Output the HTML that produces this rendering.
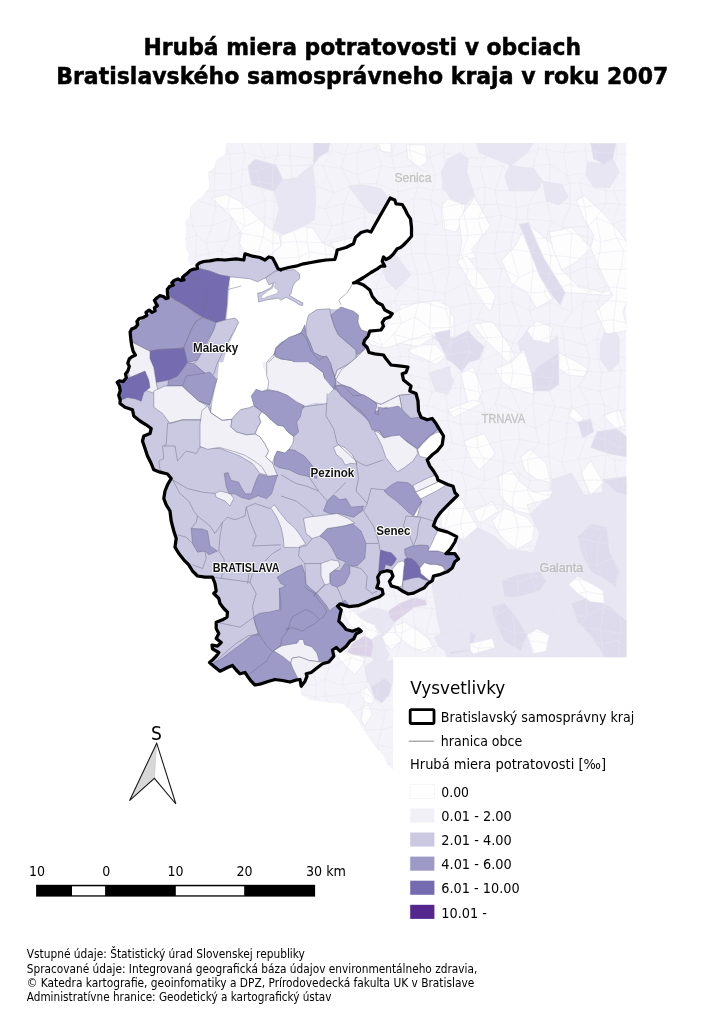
<!DOCTYPE html>
<html lang="sk"><head><meta charset="utf-8"><title>Hrubá miera potratovosti v obciach Bratislavského samosprávneho kraja v roku 2007</title>
<style>html,body{margin:0;padding:0;background:#fff}svg{display:block}</style></head>
<body>
<svg width="724" height="1024" viewBox="0 0 724 1024">
<rect width="724" height="1024" fill="#fff"/>
<defs><clipPath id="bgc"><polygon points="226,143 626.5,143 626.5,657.5 393.5,657.5 393.5,770 387.5,765 382.5,755 376,747.5 370,740 363.75,730 357.5,720 350,710 342.5,704 325,702.5 310,700 301,695 300,687 300,600 250,300 197.5,266 191,266 187.5,260 189,255 186,250 185,240 186,230 185,221 189,217.5 190,207.5 194,202.5 202.5,196 209,187.5 207.5,172.5 214,167.5 216,160 225,154"/></clipPath><clipPath id="rc"><polygon points="281,269.5 288.5,267.5 296,266.2 303.5,263.8 311,262.5 318.5,261.2 326,260 334.8,259.5 336.5,253.8 337.2,250 346,247.5 353.5,243.8 355.5,237.5 361,232.5 367.2,230.8 371,232 374.8,225 379.8,216.2 384.8,207.5 390.2,198 394.8,200 396,203.8 402.2,204.5 404.8,208.8 407.2,213.8 410.5,218.8 411.5,227.5 411.5,236.2 407.2,241.2 403.5,245 400.5,247.5 397.2,248.8 393.5,253.8 389.8,257.5 386,259.5 383.5,257 382.2,261.2 384.8,266.2 381,266.2 377.2,268.8 371,272.5 363.5,277.5 356,282 353.5,283 357.2,282.5 363.5,285 369.8,290 372.2,296.2 377.2,302.5 382.2,305 384.8,310 392.2,313.8 389.8,317 384.8,318.8 382.2,322.5 383.5,326.2 381,330 376,330.5 369.8,331.2 368,336.2 364.8,340 363.5,343.8 367.2,347.5 369,352.5 374.8,353.8 383.5,355 386,358.8 391,365 401,366.2 408,367 406,372.5 402.2,373.8 403.5,380 411,386 409.8,391 416,393.5 418,401 418.5,411 421,417.2 427.2,419.8 432.2,418.5 436,423.5 439.8,429.8 443.5,436 442.2,444.8 437.2,451 432.2,454.8 427.2,459.8 429.8,466 433.5,471 437.2,477.2 437.9,480 447.7,484.5 453.1,486.3 454.9,492.6 457.6,495.3 451.3,501.5 445.9,506.9 440.6,512.3 436.1,518.6 433.4,525.8 437.9,529.4 447.7,532.1 456.7,536.6 454.9,542 450.4,549.1 445.9,553.6 454.9,553.6 458.5,559 454.9,561.7 452.2,568 447.7,571.6 440.6,574.3 433.4,576.1 432.5,580.6 428,583.3 424.4,587.7 419,590.4 413.6,593.1 408.2,594 402.8,591.3 397.5,587.7 391.2,585.9 389.4,581.5 393,576.1 391.2,571.6 386.7,570.7 380.4,572.5 377.7,577 378.6,582.4 376.8,587.7 382.2,589.5 383.1,594 379.5,596.7 372.3,599.4 365.1,603 358,605.7 349,606.6 340,603.9 340,603.8 337.5,606.2 341.2,610 340,615 338.8,621.2 342.5,625 346.2,629.5 352.5,631.2 358.8,628.8 361.2,631.2 356.2,633.8 353.8,638.8 350,641.2 346.2,646.2 340,651.2 336.2,647.5 332.5,650 333.8,656.2 328.8,662 322.5,663.8 317.5,667.5 311.2,672.5 306.2,673.8 307,676.2 305,681.2 301.2,686.2 300,679.5 296.2,680 290,682 282.5,680.5 275,679.5 268.8,681.2 261.2,683.8 255,685 251.2,681.2 247.5,676.2 245,672.5 240,673.8 236.2,670 232.5,665.5 227.5,667.5 220,671.2 213.8,666.2 209.5,662.5 212.5,660 216.2,656.2 218.8,652.5 212.5,648.8 212,645 217.5,646.2 221.2,642.5 216.2,638.5 218.8,633.5 216.2,628.5 216.2,622.2 222.5,619.8 227,617.2 227.5,612.2 223.8,608.5 220,603.5 218.8,598.5 213.8,593.5 216.2,591 215,583.5 212.5,577.2 205,577.2 197.5,576 192.5,571 188.8,564.8 183.8,559.8 178.8,553.5 175,547.2 176.2,538.5 173.8,531 171.2,521 170,511 166.2,504.8 163.8,498.5 165,491 167.5,484.8 171.2,478.5 167.5,474 160,472.2 153.8,469.8 151.2,463.5 147.5,456 145,448.5 142.5,441 143.8,436 150,433.5 151.2,428.5 146.2,424.8 140,421 133.8,416 132.5,409.8 125,407.2 120,403.5 120.2,399.9 118.7,395.2 120.2,390.7 119.4,386.1 117.2,382.3 119.4,380.8 123.2,381.5 126.3,377.7 125.5,373.9 127.8,370.9 129.3,366.4 127.8,363.3 129.3,358.8 132.3,356.5 135.4,355 133.1,351.2 131.6,345.1 130.8,339 130.1,332.2 131.6,329.1 135.4,327.6 137.7,324.6 136.9,321.5 139.2,318.5 143,317.7 146.8,315.5 146,312.4 149.1,310.1 152.1,312.4 155.1,310.9 154.4,307.9 157.4,305.6 155.9,303.3 154.4,300.3 156.7,298 159.7,295.7 163.5,296.5 165.8,298.7 168.1,298 167.6,294.2 167.3,289.6 169.6,286.6 173.4,285.1 171.8,282.8 174.1,280.5 177.9,279 181,280.5 184,279.8 182.5,277.5 184.8,275.2 187.8,272.9 190.1,270.6 193.9,269.1 197.7,268.4 196.9,265.3 199.2,263 203.8,261.5 209.8,260.8 217.5,259.5 225,260 236.2,258.8 243.8,260 245,253.8 252.5,256.2 260,257.5 265,260 268.8,257 272.5,258 275,262.5 278,268.8 281,270"/></clipPath></defs>
<g id="bg" clip-path="url(#bgc)">
<polygon points="226,143 626.5,143 626.5,657.5 393.5,657.5 393.5,770 387.5,765 382.5,755 376,747.5 370,740 363.75,730 357.5,720 350,710 342.5,704 325,702.5 310,700 301,695 300,687 300,600 250,300 197.5,266 191,266 187.5,260 189,255 186,250 185,240 186,230 185,221 189,217.5 190,207.5 194,202.5 202.5,196 209,187.5 207.5,172.5 214,167.5 216,160 225,154" fill="#f4f3f9"/>
<polygon points="313.5,143 329.8,143 328.5,151.2 318.5,157.5 313.5,165" fill="#dedcec" stroke="#e4e3ec" stroke-width="0.6"/>
<polygon points="248,166.5 254.6,159.2 276.1,164.9 282.8,179.8 274.5,191.4 262.9,188.1 251.3,184.8" fill="#dedcec" stroke="#e4e3ec" stroke-width="0.6"/>
<polygon points="274.5,191.4 282.8,179.8 296,178.1 307.6,168.2 312.6,164.9 315.9,196.4 314.3,219.6 302.7,226.8 282.8,234.5 272.8,229.5 279.4,209.6" fill="#e8e6f2" stroke="#e4e3ec" stroke-width="0.6"/>
<polygon points="348.5,186.2 363.5,185 381,188.8 388.5,197.5 379.8,215 368.5,212.5 361,202.5" fill="#e8e6f2" stroke="#e4e3ec" stroke-width="0.6"/>
<polygon points="378.5,143 391,143 391,152.5 381,151.2" fill="#fdfdfe" stroke="#e4e3ec" stroke-width="0.6"/>
<polygon points="381,265 396,255 411,275 396,290 386,280" fill="#e8e6f2" stroke="#e4e3ec" stroke-width="0.6"/>
<polygon points="211.5,198 226.4,194.7 239.7,201.3 251.3,211.3 262.9,222.9 279.4,236.1 281.1,246.1 271.2,254.4 262.9,257.7 244.6,254.4 239.7,242.8 241.3,232.8 233,219.6 223.1,208" fill="#fdfdfe" stroke="#e4e3ec" stroke-width="0.6"/>
<polygon points="281.1,236.1 302.7,226.8 312.6,227.8 322.5,242.8 335.8,249.4 334.1,259.3 319.2,261 296,266 277.8,267.6 274.5,257.7 271.2,254.4 281.1,246.1" fill="#fdfdfe" stroke="#e4e3ec" stroke-width="0.6"/>
<polygon points="330.8,242.8 352.4,237.8 354,244.4 335.8,249.4" fill="#fdfdfe" stroke="#e4e3ec" stroke-width="0.6"/>
<polygon points="441.3,171.8 447.6,159.1 460.4,152.7 468.3,159.1 466.7,171.8 474.7,195.6 465.1,205.1 450.8,198.8 442.9,187.6" fill="#e8e6f2" stroke="#e4e3ec" stroke-width="0.6"/>
<polygon points="504.8,176.5 509.6,165.4 533.4,168.6 542.9,181.3 536.6,190.8 509.6,190.8" fill="#e8e6f2" stroke="#e4e3ec" stroke-width="0.6"/>
<polygon points="542.9,181.3 562,184.5 568.4,197.2 558.8,205.1 546.1,200.4" fill="#e8e6f2" stroke="#e4e3ec" stroke-width="0.6"/>
<polygon points="476.2,143.2 533.4,143.2 527.1,152.7 511.2,165.4 495.3,159.1 479.4,152.7" fill="#e8e6f2" stroke="#e4e3ec" stroke-width="0.6"/>
<polygon points="517.5,343.3 528.7,327.4 533.4,340.1 549.3,343.3 557.2,335.4 558.8,352.8 539.8,365.5 530.2,375.1" fill="#e8e6f2" stroke="#e4e3ec" stroke-width="0.6"/>
<polygon points="600.1,343.3 608.1,324.2 619.2,337 619.2,362.4 609.7,371.9 600.1,359.2" fill="#e8e6f2" stroke="#e4e3ec" stroke-width="0.6"/>
<polygon points="587.4,162.2 603.3,163.8 612.8,159.1 619.2,171.8 609.7,187.6 593.8,187.6 585.8,174.9" fill="#e8e6f2" stroke="#e4e3ec" stroke-width="0.6"/>
<polygon points="430.2,375.1 447.6,371.9 454,381.4 447.6,394.1 434.9,391" fill="#e8e6f2" stroke="#e4e3ec" stroke-width="0.6"/>
<polygon points="519.1,224.2 528.7,222.6 535,238.5 544.5,259.1 555.7,275 565.2,292.5 560.4,305.2 552.5,295.7 539.8,276.6 531.8,257.5 525.5,238.5" fill="#dedcec" stroke="#e4e3ec" stroke-width="0.6"/>
<polygon points="433.4,337 439.7,330.6 452.4,338.5 468.3,330.6 474.7,338.5 484.2,346.5 479.4,359.2 468.3,362.4 461.9,371.9 452.4,362.4 446.1,359.2 447.6,349.7" fill="#dedcec" stroke="#e4e3ec" stroke-width="0.6"/>
<polygon points="530.2,375.1 539.8,365.5 558.8,352.8 558.8,384.6 549.3,391 533.4,391" fill="#dedcec" stroke="#e4e3ec" stroke-width="0.6"/>
<polygon points="590.6,143.2 616,143.2 612.8,159.1 603.3,163.8 593.8,159.1" fill="#dedcec" stroke="#e4e3ec" stroke-width="0.6"/>
<polygon points="406.4,144.8 425.4,144.8 427,162.2 419.1,167 407.9,159.1" fill="#fdfdfe" stroke="#e4e3ec" stroke-width="0.6"/>
<polygon points="441.3,206.7 447.6,198.8 465.1,205.1 461.9,222.6 455.6,232.1 442.9,228.9" fill="#fdfdfe" stroke="#e4e3ec" stroke-width="0.6"/>
<polygon points="458.8,219.4 474.7,197.2 490.5,225.8 471.5,249.6 476.2,257.5 458.8,260.7 461.9,241.7" fill="#fdfdfe" stroke="#e4e3ec" stroke-width="0.6"/>
<polygon points="457.2,260.7 466.7,255.9 482.6,276.6 495.3,295.7 490.5,311.5 479.4,298.8 468.3,279.8" fill="#fdfdfe" stroke="#e4e3ec" stroke-width="0.6"/>
<polygon points="501.7,260.7 515.9,244.8 522.3,232.1 539.8,276.6 552.5,298.8 536.6,308.4 527.1,292.5 511.2,282.9" fill="#fdfdfe" stroke="#e4e3ec" stroke-width="0.6"/>
<polygon points="528.7,224.2 552.5,244.8 562,270.2 577.9,286.1 603.3,292.5 611.2,289.3 609.7,295.7 590.6,294.1 565.2,292.5 544.5,259.1 535,238.5" fill="#fdfdfe" stroke="#e4e3ec" stroke-width="0.6"/>
<polygon points="549.3,232.1 571.5,227.4 590.6,248 577.9,260.7 562,270.2 552.5,248" fill="#fdfdfe" stroke="#e4e3ec" stroke-width="0.6"/>
<polygon points="576.3,200.4 584.2,195.6 603.3,213.1 619.2,232.1 628.7,244.8 628.7,298.8 622.4,311.5 628.7,330.6 606.5,333.8 595.4,311.5 612.8,295.7 603.3,276.6 590.6,248 593.8,235.3 584.2,219.4" fill="#fdfdfe" stroke="#e4e3ec" stroke-width="0.6"/>
<polygon points="400,305.2 441.3,300.4 454,317.9 454,337 433.4,337 419.1,346.5 400,343.3" fill="#fdfdfe" stroke="#e4e3ec" stroke-width="0.6"/>
<polygon points="527.1,330.6 536.6,321.1 552.5,327.4 549.3,343.3 533.4,340.1" fill="#fdfdfe" stroke="#e4e3ec" stroke-width="0.6"/>
<polygon points="558.8,352.8 577.9,362.4 587.4,368.7 584.2,376.7 568.4,375.1 558.8,368.7" fill="#fdfdfe" stroke="#e4e3ec" stroke-width="0.6"/>
<polygon points="460.4,373.5 473.1,367.1 482.6,391 476.2,403.7 468.3,403.7" fill="#fdfdfe" stroke="#e4e3ec" stroke-width="0.6"/>
<polygon points="495.3,368.7 511.2,362.4 523.9,349.7 531.8,375.1 533.4,394.1 511.2,387.8 501.7,381.4" fill="#fdfdfe" stroke="#e4e3ec" stroke-width="0.6"/>
<polygon points="473.1,324.2 492.1,321.1 508,343.3 514.4,356 508,362.4 495.3,349.7 482.6,337" fill="#fdfdfe" stroke="#e4e3ec" stroke-width="0.6"/>
<polygon points="457.2,533.4 476.2,527.1 495.3,536.6 508,549.3 533.4,552.5 539.8,533.4 530.2,514.4 549.3,495.3 552.5,479.4 571.5,473.1 584.2,495.3 603.3,492.1 600.1,479.4 628.7,485.8 628.7,659.8 447.6,659.8 438.1,622.4 431.8,584.2 450.8,571.5 458.8,558.8" fill="#e8e6f2" stroke="#e4e3ec" stroke-width="0.6"/>
<polygon points="501.7,581.1 517.5,574.7 539.8,571.5 546.1,581.1 539.8,590.6 517.5,597 504.8,597" fill="#dedcec" stroke="#e4e3ec" stroke-width="0.6"/>
<polygon points="577.9,536.6 590.6,523.9 606.5,527.1 609.7,552.5 619.2,571.5 616,587.4 603.3,577.9 590.6,571.5 581.1,552.5" fill="#dedcec" stroke="#e4e3ec" stroke-width="0.6"/>
<polygon points="571.5,603.3 590.6,597 609.7,606.5 628.7,622.4 628.7,659.8 606.5,659.8 590.6,635.1 577.9,622.4" fill="#dedcec" stroke="#e4e3ec" stroke-width="0.6"/>
<polygon points="492.1,606.5 504.8,603.3 517.5,619.2 527.1,635.1 520.7,651 504.8,641.4 495.3,622.4" fill="#dedcec" stroke="#e4e3ec" stroke-width="0.6"/>
<polygon points="447.6,638.2 463.5,628.7 476.2,635.1 469.9,651 450.8,654.1" fill="#dedcec" stroke="#e4e3ec" stroke-width="0.6"/>
<polygon points="597,431.8 616,428.6 628.7,438.1 628.7,457.2 609.7,454 590.6,447.6" fill="#dedcec" stroke="#e4e3ec" stroke-width="0.6"/>
<polygon points="577.9,422.2 590.6,419.1 593.8,431.8 582.7,438.1" fill="#dedcec" stroke="#e4e3ec" stroke-width="0.6"/>
<polygon points="603.3,479.4 628.7,476.2 628.7,495.3 616,492.1" fill="#dedcec" stroke="#e4e3ec" stroke-width="0.6"/>
<polygon points="463.5,441.3 484.2,433.4 495.3,454 479.4,469.9 471.5,460.4" fill="#fdfdfe" stroke="#e4e3ec" stroke-width="0.6"/>
<polygon points="447.6,409.5 473.1,400 482.6,403.2 454,417.5" fill="#fdfdfe" stroke="#e4e3ec" stroke-width="0.6"/>
<polygon points="498.5,476.2 511.2,469.9 520.7,482.6 533.4,492.1 552.5,490.5 549.3,498.5 527.1,504.8 530.2,514.4 517.5,511.2 508,504.8 500.1,495.3" fill="#fdfdfe" stroke="#e4e3ec" stroke-width="0.6"/>
<polygon points="520.7,457.2 530.2,449.2 546.1,463.5 550.9,482.6 536.6,479.4 525.5,471.5" fill="#fdfdfe" stroke="#e4e3ec" stroke-width="0.6"/>
<polygon points="492.1,520.7 504.8,508 527.1,517.5 535,527.1 533.4,539.8 517.5,549.3 508,542.9 498.5,533.4" fill="#fdfdfe" stroke="#e4e3ec" stroke-width="0.6"/>
<polygon points="473.1,511.2 492.1,501.7 498.5,511.2 479.4,523.9" fill="#fdfdfe" stroke="#e4e3ec" stroke-width="0.6"/>
<polygon points="441.3,504.8 460.4,498.5 477.8,527.1 463.5,539.8 441.3,527.1" fill="#fdfdfe" stroke="#e4e3ec" stroke-width="0.6"/>
<polygon points="581.1,473.1 590.6,460.4 603.3,482.6 590.6,495.3" fill="#fdfdfe" stroke="#e4e3ec" stroke-width="0.6"/>
<polygon points="568.4,584.2 577.9,576.3 603.3,590.6 604.9,603.3 590.6,601.7 577.9,593.8" fill="#fdfdfe" stroke="#e4e3ec" stroke-width="0.6"/>
<polygon points="527.1,635.1 536.6,628.7 549.3,635.1 546.1,651 533.4,654.1" fill="#fdfdfe" stroke="#e4e3ec" stroke-width="0.6"/>
<polygon points="571.5,406.4 584.2,419.1 577.9,422.2 568.4,415.9" fill="#fdfdfe" stroke="#e4e3ec" stroke-width="0.6"/>
<polygon points="603.3,415.9 619.2,409.5 625.5,425.4 616,428.6" fill="#fdfdfe" stroke="#e4e3ec" stroke-width="0.6"/>
<polygon points="466.7,644.6 492.1,638.2 495.3,647.8 473.1,654.1" fill="#fdfdfe" stroke="#e4e3ec" stroke-width="0.6"/>
<polygon points="369.8,334.8 384.7,328.1 393.8,313.2 402.9,308.2 416.2,303.3 436.1,300.8 450,306.6 450,326.5 446,339.7 436.1,336.4 427.8,333.9 416.2,338.1 409.6,339.7 396.3,344.7 384.7,348 371.4,344.7 365.6,339.7" fill="#fdfdfe" stroke="#e4e3ec" stroke-width="0.6"/>
<polygon points="407.9,349.7 422.8,344.7 436.1,344.7 446,356.3 436.1,364.6 422.8,358 412.9,354.6" fill="#fdfdfe" stroke="#e4e3ec" stroke-width="0.6"/>
<polygon points="434.4,333.1 450,329.8 450,359.6 444.4,353" fill="#dedcec" stroke="#e4e3ec" stroke-width="0.6"/>
<polygon points="429.5,372.9 450,366.2 450,389.5 436.1,387.8" fill="#e8e6f2" stroke="#e4e3ec" stroke-width="0.6"/>
<polygon points="357.1,614.8 372,607.3 387,611.1 389.5,617.3 394.4,622.3 389.5,629.7 382,633.5 374.5,624.8 364.6,621" fill="#e8e6f2" stroke="#e4e3ec" stroke-width="0.6"/>
<polygon points="372,639.7 382,633.5 389.5,629.7 393.2,637.2 384.5,647.1 389.5,654.6 385.7,662 374.5,659.6 370.8,657.1 373.3,647.1" fill="#e8e6f2" stroke="#e4e3ec" stroke-width="0.6"/>
<polygon points="370.8,686.9 384.5,678.2 391.9,684.4 389.5,694.4 382,703.1 374.5,698.1" fill="#dedcec" stroke="#e4e3ec" stroke-width="0.6"/>
<polygon points="434.2,637.2 449.1,629.7 470,627.2 470,649.6 449.1,652.1 439.2,647.1" fill="#e8e6f2" stroke="#e4e3ec" stroke-width="0.6"/>
<polygon points="364.6,667 374.5,659.6 385.7,662 393.2,659.6 393.2,684.4 384.5,678.2 370.8,686.9 367.1,679.5" fill="#e8e6f2" stroke="#e4e3ec" stroke-width="0.6"/>
<polygon points="388.2,611.1 399.4,603.6 414.3,597.4 425.5,599.9 426.7,604.9 414.3,607.3 404.4,614.8 394.4,622.3 389.5,617.3" fill="#ddd3e8" stroke="#e4e3ec" stroke-width="0.6"/>
<polygon points="347.2,652.1 353.4,642.2 364.6,635.9 372,639.7 373.3,647.1 370.8,657.1 359.6,655.8 352.2,654.6" fill="#ddd3e8" stroke="#e4e3ec" stroke-width="0.6"/>
<polygon points="339.7,604.9 349.7,607.3 357.1,614.8 364.6,621 374.5,624.8 378.3,633.5 372,639.7 364.6,635.9 359.6,629.7 352.2,627.2 347.2,621 343.5,612.3" fill="#fdfdfe" stroke="#e4e3ec" stroke-width="0.6"/>
<polygon points="394.4,626 404.4,622.3 416.8,629.7 429.2,639.7 433,647.1 424.3,652.1 411.8,647.1 401.9,639.7 395.7,633.5" fill="#fdfdfe" stroke="#e4e3ec" stroke-width="0.6"/>
<polygon points="334.8,652.1 347.2,652.1 352.2,654.6 359.6,655.8 364.6,658.3 363.3,664.5 354.6,674.5 347.2,667 339.7,659.6" fill="#fdfdfe" stroke="#e4e3ec" stroke-width="0.6"/>
<polygon points="359.6,691.9 367.1,686.9 374.5,698.1 372,704.3 364.6,701.8" fill="#fdfdfe" stroke="#e4e3ec" stroke-width="0.6"/>
<polygon points="362.1,706.8 369.6,705.6 372,714.3 364.6,726.7 360.9,719.2" fill="#fdfdfe" stroke="#e4e3ec" stroke-width="0.6"/>
<polygon points="382,637.2 394.4,626 395.7,633.5 401.9,639.7 391.9,649.6 385.7,644.6" fill="#fdfdfe" stroke="#e4e3ec" stroke-width="0.6"/>
<path d="M173.9,131.8 194.8,130.9 210.4,134.4 221.7,136.1 238.4,135.2 255.8,131.1 277.1,139.9 290.5,132.7 313.5,141.4 329.9,134.8 351.7,130.6 367.3,133.5 375.7,131.4 394.7,139.8 410.2,137 432.7,134.5 448.6,130.8 459.7,132.5 484.2,135.1 496.8,137 515.4,133.6 536.5,138.4 546.9,136.9 567.3,140.5 586.8,133.5 606.8,131.4 617,139.1 630.8,135.9 M170.5,155 196.2,153.9 214.5,150.8 229.3,154.1 245,152.5 265.1,158.3 277.7,155 289.7,155.4 313.8,158.9 332.9,150.4 344.6,155 357.3,152.5 376,148.4 391.7,156.2 409.6,150 429.7,157.5 443,152.4 465.6,157.6 485.8,157.4 496.3,152 514.3,157.6 538.5,148.8 546.1,149.8 563.8,152.8 585.1,150.2 595,152 616.4,153.8 640.4,155.3 M176.2,171.4 195.1,164.6 214.8,173.4 231.5,173.6 242.7,168.8 256.2,171.6 272.7,164.8 291.5,165.9 310.1,164.6 323,165.8 341.2,168.4 357.3,174.5 381.4,165.8 394,168.2 412.4,165.5 435.2,175.9 447.6,169.8 460,165.2 480.1,167.2 502.9,165.9 510.3,175.4 533.3,165.8 550.5,164.3 567.3,175.7 588.4,172.4 598.1,168.4 614,173.3 635.4,173.3 M174,183.7 196.7,192.8 214.2,190.7 230.8,189.9 240.7,187.2 259.3,181.3 272.3,184.4 292.1,189.3 317.5,186.4 334.2,192.9 351.5,185.4 359.6,183.7 376.4,183.5 398.5,191.8 418.1,186.8 432.8,190.6 443,188.9 469.9,190.4 485,186.7 495.1,190.5 514,190.6 538.7,185.8 548.8,192.4 569.7,183 579.5,182.8 605.9,190.7 613.8,190.9 640.8,188.9 M174.2,204.6 188.6,198.2 215.7,205.8 227.3,209.2 243.2,208.5 264.9,200.5 275,201.5 291.9,205 309.1,203 324.6,208.9 344.2,203.5 364,208.9 379,209 397,204.4 414.3,198.2 430.3,200.2 442,207.6 461.1,203.7 484.7,204.7 496.9,204.2 516.7,207.4 528.3,204.7 547,201.3 570.3,204.1 584.7,207.1 605.9,203.3 619.4,204.1 635.1,206.3 M175.4,221.4 192.7,226.3 212.4,225.5 232.3,218.1 244.7,226.3 265.1,216.6 273.5,220.3 289.9,217.9 306.9,223 332.4,225.8 341.9,223.6 364.9,216.7 384.6,226.6 393.6,226.4 412.8,220.8 436.9,225 443.9,220.2 465.2,219.1 478.3,218.8 501.7,215.2 516.6,220.3 527.2,219 551.5,221.1 561.8,226.8 587.5,226.7 596.3,218.2 612.5,224.3 632.2,216.6 M175.1,242.9 196.8,235.1 205.8,243 227.8,240.4 239.1,232.7 263.3,237.1 272.9,243.3 296.6,241.6 307,242.3 323.8,242.4 345.4,236.1 363.6,243.1 377.2,233.6 397.3,234.9 409.3,233.9 425.6,234.4 445.7,235.7 468.1,235.5 482,234.1 497.2,232.2 513,232.2 535.8,238.6 546.3,237.7 572.2,233.3 587.8,237.2 600.9,242 616.7,238.1 637.3,243.8 M174.1,259 195.5,256.6 208.9,253.2 221.7,250.6 238.8,257.9 258.1,251 273,259.1 299.4,257 309.4,251.9 326.5,254.5 341.9,254.3 360.2,260.5 385.7,255.6 393.9,260.6 411.7,253.3 425,253.6 447.7,255 461.4,255.1 476.1,252.2 494.1,253.8 510.5,249.3 530.7,251.8 551,255.4 570,256.9 586.6,259.5 599.7,252.9 623.8,250.8 637.7,256.7 M170.5,276 197.7,273.5 212.8,275.7 222.7,272.3 244.1,276 264.7,275.9 279,276.7 297.2,274.3 308.8,266.4 324.6,270.3 341.3,276 363.7,273.5 381.5,274.2 396.9,266 417.6,275 431,272.4 449.9,266.8 467.8,269 476.9,269.2 501.8,268.5 518.9,277.7 532.9,270.6 549.7,274.2 570.2,273.4 585.7,266.9 596.8,269 620.9,269.7 635.8,266.1 M170.7,286.2 195.1,291.3 212.1,286.5 227.2,288.6 243.6,284.4 265.7,285.4 283.7,294.2 289.2,288.5 315.8,294.6 328.4,286.2 342.5,294.3 359.5,290 375.7,289.3 402.4,284.6 417.8,289.1 435.6,291.4 444.8,293.8 464.8,283.3 476,288.9 498.4,286.6 511.7,287.1 530.8,293.1 544,292 571.1,284.4 589.1,291.6 605.8,286.5 616.5,287.7 641,290.1 M174.3,305.1 190.3,300.6 205.2,310 224.4,311.2 241,303.2 261.1,302.3 276.5,311.5 299.6,309.7 313.6,311 334.3,306.6 348.6,300.6 365.8,305.4 383,307.7 394.4,300.6 419.1,301.5 430.7,304.1 445.6,308.9 470.7,303.1 483.9,303.6 499.7,304.7 512,301.9 529.5,310.9 550,302.6 571.9,312 583.4,301.7 597.3,301.1 616.1,301.1 631.9,303.1 M176.8,327.6 196,322 209,323.3 225.5,321.1 238.7,320.3 266.6,318.5 278,324.6 299.4,319.6 309.3,320 327.8,322.4 351.4,327.2 367.5,317.3 374.4,325.5 401.7,322.7 415,317 429.7,328.1 451.9,327.3 470.7,320 477.3,318.9 499.3,325.2 521.3,325.7 534.8,326.2 549.5,323.6 561.5,326.4 580.8,328 602.7,320.6 613.5,320 636.6,325.4 M171.3,334.8 193.3,341 208.7,336.7 228.2,334.1 241.6,339.5 266.5,341.7 282.6,339.7 291.8,337 317.5,342.5 326.7,334.3 346,342.1 362,337.1 382,345.1 393.7,334.4 412.1,339 433.2,336.4 451.6,342.9 465.1,336.5 487.6,337.7 502.8,336.8 512.7,343.1 530.5,345.4 549.9,336.2 563.7,339 586,345.4 596.8,338.7 614.6,345.7 630.7,334.6 M170.7,355.7 197.8,361.6 212.8,363 232.2,355 240.2,362.2 264,351.4 280,355.5 293.5,355 308,351 326.4,355.2 351.5,352.5 368.6,353.5 378.3,360.9 400.9,356.2 408.6,356.7 429.5,362 444.3,355.4 469.8,351.4 480.9,360.7 502.2,351.5 510.4,351.8 538,354.1 553,361.8 565.1,354.3 589.5,358.4 598.1,359.6 615.8,354.3 629,360.1 M181,375.6 198.3,368.3 206.8,373.7 232.5,379.4 242.6,371 260.2,373.9 283.1,370.2 298.6,376.9 315.9,377.3 330.3,371.9 343.8,372.3 366.4,368.9 376.4,377 394,368.8 408.4,374.6 428.9,379.8 452.6,379.9 462.2,369 477.2,374 501.5,373.4 512.8,373 534.4,376.1 553,378.2 569,369.5 588.1,371.5 601.8,372.5 620.9,370.4 632,370.9 M171.8,395.6 193.9,388.9 208.8,396.9 227.1,387.8 247.7,392.8 266.9,386.2 277.7,394.8 299.1,396 306.5,388.5 324.4,387.3 351.7,392 368.2,389.5 384.4,390.4 394.1,394.3 419.3,386.3 432.2,392.4 444.6,389.4 460.7,387.4 479.1,392.2 500.8,387.4 510.1,388.9 535.1,387.2 547.7,387.4 570.5,391.6 578.8,386.2 599.7,391.6 619.7,386.1 631,393.3 M174.9,405.4 190.7,413.4 207.7,408.8 225.3,407 248.4,414 259.4,404.4 280.7,404.4 289.1,412.8 311.1,411.8 327.9,412.6 345.5,404 357.2,408.6 381.7,412.9 392.1,409.5 412.5,408.1 426.8,405.4 448.3,413.1 460.3,407.9 485.7,413.6 495.4,403.5 521.3,413.7 532.8,402.6 555.1,406.7 571.9,409.4 587.9,403.9 604.4,404.7 616.9,412.2 639,404.2 M172.6,423.8 193.2,423.6 205.5,422 229.7,429.8 238.5,425.7 264.1,419.5 282.1,420.4 296.2,425.6 313.5,422.7 328,426 345.1,426.9 362.4,424.3 374.3,426.4 396.9,421.8 417.2,428.4 430.5,421.2 447.7,420.3 460.5,424.2 477.1,424.3 499.1,419.5 517.6,420 535.8,428.3 550.1,419.7 567,423.5 589.4,420.6 605.3,431 620.8,428.8 631.3,430.8 M175.9,447.5 198,438 213.5,447.2 221.8,440.2 247.1,437.9 265.8,439.3 281.8,437.7 295,447 308.5,439.2 329.1,439.8 340.4,438.2 358.9,447.2 382.2,446.7 393,445.4 409.4,442.4 432.6,440.3 452.5,442.7 466,446.6 477.3,447.9 500.6,440.7 519.6,439.2 538.9,442.9 548.3,445.2 566.3,438.1 586.9,436.6 604.8,439 619.7,447.8 636,444 M173.8,453 187.4,454.8 211.4,458.2 227.2,463.7 239.6,455.7 262.8,453.3 272,457.3 290.3,457.3 308.7,460 330.1,455.5 347.5,458.7 358.6,464.2 376.9,454.8 392.1,460.7 418.5,462.4 429.8,456.2 442.1,460.7 465.7,457.2 483.7,458.3 504.2,461.8 513,463.8 527.5,459.4 548.9,455.9 561.7,462.3 578.1,459.6 606.3,454.7 614.4,460.3 635.1,460.7 M179.8,472.1 190.7,473.6 204.6,480.7 230.4,478.6 238.1,480.1 263.9,475.6 280.9,475.4 291.7,471.3 308.8,470.5 327,479 348.3,480.1 365.5,473.2 380.6,475.2 400.5,476.3 411.2,477.7 436.6,472.6 452.6,470.2 462.1,472.8 484.9,481.3 502,473.9 520.6,473.9 529.9,480.9 551.6,478.3 569,481.7 583.6,480.1 603.4,480.3 617.2,478.7 635.8,473.7 M172.5,494.5 187.9,497.9 205.7,487.3 222.3,498.1 242.1,488.7 255.3,487.5 280.3,494.6 297.4,495.8 306.8,494.1 327.4,496.8 349.8,497.7 357.8,497.4 385,498.3 392.3,489.5 409.3,487.4 435.2,496.7 449.6,496.9 466.6,490.4 477.2,488.2 502.1,489.5 513.8,492.1 527.3,490.1 547.4,495.6 565.4,490.8 589.6,493 605.2,494.4 612.4,492 634.2,496.3 M174.2,512.5 193.5,506.6 214.3,505.1 230.8,506 238,506.4 264.1,515.7 272.1,509.9 294.9,513.6 308.2,509.9 327.2,514 343.1,515.3 360.4,506.6 382.4,510 392.3,511.6 409,513.5 433.4,513.4 449.5,508.3 463.8,508.7 486.7,505 503.7,504.3 512.5,507.2 537.8,510 548.6,514.6 563.8,509.5 584.4,513.1 604,511.8 616.2,507.9 630.9,514.1 M177.9,529.9 189,526.3 213.3,528 222.5,526.5 248.6,523.9 257.3,524.6 280.4,531.1 290.9,522.9 309,524.9 329.3,522.9 343.9,523.3 368.7,529.7 375.2,532.5 392.2,525.6 419.8,530.5 433.8,526.2 444.4,528.7 460.3,523.5 480.7,521.4 497.8,530.5 518.3,527 534.6,526.6 545.7,528.2 565.9,529.9 588.9,526.2 601.9,530 617.1,523.7 637.7,531.6 M179.3,546.4 197.2,546.2 211.7,543.4 224.8,545.5 239.2,543 264.4,546.6 279.6,541 294.1,543.5 313.5,542.9 331.1,549.2 342.2,545.9 366.3,542.7 379.9,549.7 391.5,544.5 409.9,547.4 436.3,544.2 443.2,544.9 465.5,546.6 482.1,545.7 502.9,544.3 514.9,549.4 529.5,546.2 548.7,547.2 562.5,549.8 582.3,538.7 598.3,542.8 612.2,543 634,546.4 M174.2,558.2 189.7,563.9 215.3,561.3 223.6,564.6 242.7,557.5 256.6,564.3 281.7,562.6 294.6,561.7 308.7,566.6 327.2,562.7 349.8,564.8 362.6,558.5 380.6,556.5 401,559.3 418.2,558.2 429.5,558 447.1,557.2 459,563.7 479.4,557.9 496.6,560.8 515.1,562.6 534.9,559.3 555.1,565.3 561.7,564.9 588.9,564.4 596.7,565 619.6,555.2 629.1,566.4 M177.9,575 188.2,573.7 206.8,581.3 225.2,573.8 248.8,581.5 257,582.7 279.3,581.4 297,582.7 315.5,582.1 325.4,580.3 346.4,580.9 362.3,582.6 380.7,575.2 393.8,573.7 413.9,572.7 430.6,573.7 447.9,578 465.5,582.4 476.1,582.1 498.6,578.8 518,582.1 531.5,577 555.5,572.9 568.6,579.6 578.3,579.3 603.2,583.2 616,583.8 635.1,577.8 M180.8,589.4 195.6,596.5 208.1,599.3 225.4,594.7 244.3,598.2 257.5,594.2 277.1,595.6 298.9,592.5 315.9,593.8 329,592.3 346.1,600.7 364.9,598.5 378,592.8 394.6,596 415.6,598.4 425.5,597.7 452.6,595.5 459.6,592.6 476.1,591.3 504.1,596.3 517.9,598.5 537.9,596.3 551.4,596.5 569.4,596.2 586.2,591.6 603,594.5 621.2,590.2 631.2,589.4 M179.3,617 194.9,610.4 213.9,615.4 227.7,609.1 241.6,611.1 258.8,611.2 279.7,617.2 289.7,612.8 306.5,607.4 332.7,612.9 351,611.4 357.2,610.6 381.1,617.3 402.8,611.7 412.9,607.2 432.7,608.5 443.8,606.2 459.1,614.2 477.5,617.6 494.1,616.4 511.5,606.2 535.6,608.9 552.8,608.2 561.6,615.3 586.6,616.3 603.8,607 619.5,614.5 634.5,617.2 M173,634.6 195.6,623.1 204.2,630.8 230.8,624 241.7,631.8 257,633.3 277.8,623.7 293.4,629.9 311.3,631.1 324.7,632.6 344.4,630.7 364.6,628 378.6,632.4 402.3,632.4 414.8,626.5 425.7,634.7 450.4,632.9 463,630.3 487.7,633 500.2,626.7 515.1,633.7 531.5,631.2 551.2,633.8 570.7,626.4 578,626.2 600.1,630 621.8,633.6 629.5,633 M179.7,650.4 193.9,643.3 214.2,649.7 229.2,651 242.2,641 261.6,649.6 274.4,649 300.2,642.8 313.3,648.1 328.6,642.5 343.1,649 366.5,645.5 375.1,649.7 400.3,642.8 415,650.8 435.6,646.3 447.7,647.1 461.3,642.3 478.2,648.4 497.4,646.8 514.8,646.2 528.8,640.5 556,644.5 562.3,647.6 587.4,641.9 602.2,644.1 618.2,640.2 629.4,651.9 M180.4,662.8 193.8,660.1 213.4,662.1 232.4,666.2 247.8,668.6 258,657.5 274.4,659.2 290,657.6 312.7,667.4 328.5,668.4 350.9,657.8 364.2,661.8 375.4,668.5 394.1,663.8 415.7,668.5 433,661.7 447.4,658.9 470.6,668.9 478.7,657.5 496.1,661.2 520.8,667.9 537,657.6 553.4,665.5 568.8,668.8 578.7,658.7 604.1,668.3 620.1,660.6 636.1,666.1 M171.3,677.9 190.1,675.5 209.8,676 223.9,675.7 246.1,674.2 263.6,676.3 272.4,685.1 291.6,685.2 316.4,684.7 324.7,679.4 341.2,685.1 367.1,681.5 379.4,678.1 400.9,679.7 415.5,675.7 427.7,674.7 450.6,680.6 460.7,684.4 479.2,678.9 494.9,677.3 520.1,678 529,679.9 547.8,684.8 562.4,685.7 578.7,684.7 603,676.5 617.7,677.4 632.1,676.4 M174.4,702.9 199,702.1 205.2,694.5 231.8,691.7 246.7,694.5 266.7,691.2 281.7,695.1 290.7,691 316,697.3 325.2,696.2 350.9,693.6 363.9,692.7 376.2,700.2 399.5,693.4 409,692 432.3,696.9 445.3,693.5 466.3,699.5 485.7,698 495.4,691.8 518.8,695.9 535.7,691.7 553.7,695 571.1,701.4 583.9,691.2 605.9,696.7 622.5,694.2 631.2,701 M174.4,710 191.5,715.1 204.1,714.2 226.3,714.2 239.4,716.6 264.8,718.4 275.9,716.5 293.6,717 306.7,718.5 334.4,713.9 346.2,714.4 363.4,708.2 385.6,710.7 393.2,709.2 411,717.8 425.4,709.2 450.4,710.3 459.2,715.2 482.9,714.3 501.4,709.2 520.4,716.6 527.5,709.5 549.9,714 564.4,709.5 582.9,709.6 602.1,718.3 613.8,714.9 638,710 M179.9,736.3 191.7,730 214.1,731.3 225.7,736.3 247.3,729.1 257.9,729 277.2,736.8 298.7,736 315.8,735.2 323.6,731.2 351.5,736.2 360,730.1 381.6,729.4 397.4,725.8 413.2,731.1 425.2,726.7 453.6,734.3 470.2,732.6 485.7,735.6 503.6,725.4 517.7,728.2 535.1,728.3 550.5,736.1 568.5,728 584.2,730.2 606.4,728.5 615.7,732.8 630.4,732.1 M181.5,748.2 190.2,747.6 210.4,743.8 222.5,743.6 241.5,746.9 258.5,744.9 273.1,748.6 299.1,749.3 312.8,749.8 325.4,750.5 345.5,748.6 364.4,747.6 377.7,744.9 393.7,748.1 412.6,749 425.1,746.2 452.3,744.9 465.7,747.9 479.4,753.9 496.5,751.3 511.9,742.8 537.5,747.3 544.7,746.7 566.3,750.8 579.3,744.7 606.5,750.9 613.9,746 633.2,750.1 M177.4,769.2 196.9,765.2 212.9,767.9 230.1,764.7 247.4,767.5 266,760.5 282.4,759.1 298.2,766 312,770.6 329.9,764 349.4,769.5 364.3,763.6 379.4,764.5 399.7,762.5 412.7,765.7 429.6,762.9 451.4,769.2 465,764.3 478.2,762.6 494.7,765.9 517,760.1 538,762.9 554.1,769.1 572.5,761.5 583.1,769.9 595.1,759.6 618.8,765 640,768.3 M176.5,788 193.2,782.2 212.2,780.7 225.3,783.1 242.2,787.4 263.1,782.3 273.2,780.5 293.8,782.7 312.9,786.6 334.6,781.8 345.3,783.5 369,780.1 380.4,785.8 393,779.8 419.7,785.9 431.2,777.3 452.7,784.3 468.8,787.9 486.7,781.1 494.9,779.5 516.1,782.1 529.3,778.2 551.6,783.2 565.2,787.9 585.6,776.5 599.9,785.5 615.7,784.3 629,779.7 M173.9,131.8 170.5,155 176.2,171.4 174,183.7 174.2,204.6 175.4,221.4 175.1,242.9 174.1,259 170.5,276 170.7,286.2 174.3,305.1 176.8,327.6 171.3,334.8 170.7,355.7 181,375.6 171.8,395.6 174.9,405.4 172.6,423.8 175.9,447.5 173.8,453 179.8,472.1 172.5,494.5 174.2,512.5 177.9,529.9 179.3,546.4 174.2,558.2 177.9,575 180.8,589.4 179.3,617 173,634.6 179.7,650.4 180.4,662.8 171.3,677.9 174.4,702.9 174.4,710 179.9,736.3 181.5,748.2 177.4,769.2 176.5,788 M194.8,130.9 196.2,153.9 195.1,164.6 196.7,192.8 188.6,198.2 192.7,226.3 196.8,235.1 195.5,256.6 197.7,273.5 195.1,291.3 190.3,300.6 196,322 193.3,341 197.8,361.6 198.3,368.3 193.9,388.9 190.7,413.4 193.2,423.6 198,438 187.4,454.8 190.7,473.6 187.9,497.9 193.5,506.6 189,526.3 197.2,546.2 189.7,563.9 188.2,573.7 195.6,596.5 194.9,610.4 195.6,623.1 193.9,643.3 193.8,660.1 190.1,675.5 199,702.1 191.5,715.1 191.7,730 190.2,747.6 196.9,765.2 193.2,782.2 M210.4,134.4 214.5,150.8 214.8,173.4 214.2,190.7 215.7,205.8 212.4,225.5 205.8,243 208.9,253.2 212.8,275.7 212.1,286.5 205.2,310 209,323.3 208.7,336.7 212.8,363 206.8,373.7 208.8,396.9 207.7,408.8 205.5,422 213.5,447.2 211.4,458.2 204.6,480.7 205.7,487.3 214.3,505.1 213.3,528 211.7,543.4 215.3,561.3 206.8,581.3 208.1,599.3 213.9,615.4 204.2,630.8 214.2,649.7 213.4,662.1 209.8,676 205.2,694.5 204.1,714.2 214.1,731.3 210.4,743.8 212.9,767.9 212.2,780.7 M221.7,136.1 229.3,154.1 231.5,173.6 230.8,189.9 227.3,209.2 232.3,218.1 227.8,240.4 221.7,250.6 222.7,272.3 227.2,288.6 224.4,311.2 225.5,321.1 228.2,334.1 232.2,355 232.5,379.4 227.1,387.8 225.3,407 229.7,429.8 221.8,440.2 227.2,463.7 230.4,478.6 222.3,498.1 230.8,506 222.5,526.5 224.8,545.5 223.6,564.6 225.2,573.8 225.4,594.7 227.7,609.1 230.8,624 229.2,651 232.4,666.2 223.9,675.7 231.8,691.7 226.3,714.2 225.7,736.3 222.5,743.6 230.1,764.7 225.3,783.1 M238.4,135.2 245,152.5 242.7,168.8 240.7,187.2 243.2,208.5 244.7,226.3 239.1,232.7 238.8,257.9 244.1,276 243.6,284.4 241,303.2 238.7,320.3 241.6,339.5 240.2,362.2 242.6,371 247.7,392.8 248.4,414 238.5,425.7 247.1,437.9 239.6,455.7 238.1,480.1 242.1,488.7 238,506.4 248.6,523.9 239.2,543 242.7,557.5 248.8,581.5 244.3,598.2 241.6,611.1 241.7,631.8 242.2,641 247.8,668.6 246.1,674.2 246.7,694.5 239.4,716.6 247.3,729.1 241.5,746.9 247.4,767.5 242.2,787.4 M255.8,131.1 265.1,158.3 256.2,171.6 259.3,181.3 264.9,200.5 265.1,216.6 263.3,237.1 258.1,251 264.7,275.9 265.7,285.4 261.1,302.3 266.6,318.5 266.5,341.7 264,351.4 260.2,373.9 266.9,386.2 259.4,404.4 264.1,419.5 265.8,439.3 262.8,453.3 263.9,475.6 255.3,487.5 264.1,515.7 257.3,524.6 264.4,546.6 256.6,564.3 257,582.7 257.5,594.2 258.8,611.2 257,633.3 261.6,649.6 258,657.5 263.6,676.3 266.7,691.2 264.8,718.4 257.9,729 258.5,744.9 266,760.5 263.1,782.3 M277.1,139.9 277.7,155 272.7,164.8 272.3,184.4 275,201.5 273.5,220.3 272.9,243.3 273,259.1 279,276.7 283.7,294.2 276.5,311.5 278,324.6 282.6,339.7 280,355.5 283.1,370.2 277.7,394.8 280.7,404.4 282.1,420.4 281.8,437.7 272,457.3 280.9,475.4 280.3,494.6 272.1,509.9 280.4,531.1 279.6,541 281.7,562.6 279.3,581.4 277.1,595.6 279.7,617.2 277.8,623.7 274.4,649 274.4,659.2 272.4,685.1 281.7,695.1 275.9,716.5 277.2,736.8 273.1,748.6 282.4,759.1 273.2,780.5 M290.5,132.7 289.7,155.4 291.5,165.9 292.1,189.3 291.9,205 289.9,217.9 296.6,241.6 299.4,257 297.2,274.3 289.2,288.5 299.6,309.7 299.4,319.6 291.8,337 293.5,355 298.6,376.9 299.1,396 289.1,412.8 296.2,425.6 295,447 290.3,457.3 291.7,471.3 297.4,495.8 294.9,513.6 290.9,522.9 294.1,543.5 294.6,561.7 297,582.7 298.9,592.5 289.7,612.8 293.4,629.9 300.2,642.8 290,657.6 291.6,685.2 290.7,691 293.6,717 298.7,736 299.1,749.3 298.2,766 293.8,782.7 M313.5,141.4 313.8,158.9 310.1,164.6 317.5,186.4 309.1,203 306.9,223 307,242.3 309.4,251.9 308.8,266.4 315.8,294.6 313.6,311 309.3,320 317.5,342.5 308,351 315.9,377.3 306.5,388.5 311.1,411.8 313.5,422.7 308.5,439.2 308.7,460 308.8,470.5 306.8,494.1 308.2,509.9 309,524.9 313.5,542.9 308.7,566.6 315.5,582.1 315.9,593.8 306.5,607.4 311.3,631.1 313.3,648.1 312.7,667.4 316.4,684.7 316,697.3 306.7,718.5 315.8,735.2 312.8,749.8 312,770.6 312.9,786.6 M329.9,134.8 332.9,150.4 323,165.8 334.2,192.9 324.6,208.9 332.4,225.8 323.8,242.4 326.5,254.5 324.6,270.3 328.4,286.2 334.3,306.6 327.8,322.4 326.7,334.3 326.4,355.2 330.3,371.9 324.4,387.3 327.9,412.6 328,426 329.1,439.8 330.1,455.5 327,479 327.4,496.8 327.2,514 329.3,522.9 331.1,549.2 327.2,562.7 325.4,580.3 329,592.3 332.7,612.9 324.7,632.6 328.6,642.5 328.5,668.4 324.7,679.4 325.2,696.2 334.4,713.9 323.6,731.2 325.4,750.5 329.9,764 334.6,781.8 M351.7,130.6 344.6,155 341.2,168.4 351.5,185.4 344.2,203.5 341.9,223.6 345.4,236.1 341.9,254.3 341.3,276 342.5,294.3 348.6,300.6 351.4,327.2 346,342.1 351.5,352.5 343.8,372.3 351.7,392 345.5,404 345.1,426.9 340.4,438.2 347.5,458.7 348.3,480.1 349.8,497.7 343.1,515.3 343.9,523.3 342.2,545.9 349.8,564.8 346.4,580.9 346.1,600.7 351,611.4 344.4,630.7 343.1,649 350.9,657.8 341.2,685.1 350.9,693.6 346.2,714.4 351.5,736.2 345.5,748.6 349.4,769.5 345.3,783.5 M367.3,133.5 357.3,152.5 357.3,174.5 359.6,183.7 364,208.9 364.9,216.7 363.6,243.1 360.2,260.5 363.7,273.5 359.5,290 365.8,305.4 367.5,317.3 362,337.1 368.6,353.5 366.4,368.9 368.2,389.5 357.2,408.6 362.4,424.3 358.9,447.2 358.6,464.2 365.5,473.2 357.8,497.4 360.4,506.6 368.7,529.7 366.3,542.7 362.6,558.5 362.3,582.6 364.9,598.5 357.2,610.6 364.6,628 366.5,645.5 364.2,661.8 367.1,681.5 363.9,692.7 363.4,708.2 360,730.1 364.4,747.6 364.3,763.6 369,780.1 M375.7,131.4 376,148.4 381.4,165.8 376.4,183.5 379,209 384.6,226.6 377.2,233.6 385.7,255.6 381.5,274.2 375.7,289.3 383,307.7 374.4,325.5 382,345.1 378.3,360.9 376.4,377 384.4,390.4 381.7,412.9 374.3,426.4 382.2,446.7 376.9,454.8 380.6,475.2 385,498.3 382.4,510 375.2,532.5 379.9,549.7 380.6,556.5 380.7,575.2 378,592.8 381.1,617.3 378.6,632.4 375.1,649.7 375.4,668.5 379.4,678.1 376.2,700.2 385.6,710.7 381.6,729.4 377.7,744.9 379.4,764.5 380.4,785.8 M394.7,139.8 391.7,156.2 394,168.2 398.5,191.8 397,204.4 393.6,226.4 397.3,234.9 393.9,260.6 396.9,266 402.4,284.6 394.4,300.6 401.7,322.7 393.7,334.4 400.9,356.2 394,368.8 394.1,394.3 392.1,409.5 396.9,421.8 393,445.4 392.1,460.7 400.5,476.3 392.3,489.5 392.3,511.6 392.2,525.6 391.5,544.5 401,559.3 393.8,573.7 394.6,596 402.8,611.7 402.3,632.4 400.3,642.8 394.1,663.8 400.9,679.7 399.5,693.4 393.2,709.2 397.4,725.8 393.7,748.1 399.7,762.5 393,779.8 M410.2,137 409.6,150 412.4,165.5 418.1,186.8 414.3,198.2 412.8,220.8 409.3,233.9 411.7,253.3 417.6,275 417.8,289.1 419.1,301.5 415,317 412.1,339 408.6,356.7 408.4,374.6 419.3,386.3 412.5,408.1 417.2,428.4 409.4,442.4 418.5,462.4 411.2,477.7 409.3,487.4 409,513.5 419.8,530.5 409.9,547.4 418.2,558.2 413.9,572.7 415.6,598.4 412.9,607.2 414.8,626.5 415,650.8 415.7,668.5 415.5,675.7 409,692 411,717.8 413.2,731.1 412.6,749 412.7,765.7 419.7,785.9 M432.7,134.5 429.7,157.5 435.2,175.9 432.8,190.6 430.3,200.2 436.9,225 425.6,234.4 425,253.6 431,272.4 435.6,291.4 430.7,304.1 429.7,328.1 433.2,336.4 429.5,362 428.9,379.8 432.2,392.4 426.8,405.4 430.5,421.2 432.6,440.3 429.8,456.2 436.6,472.6 435.2,496.7 433.4,513.4 433.8,526.2 436.3,544.2 429.5,558 430.6,573.7 425.5,597.7 432.7,608.5 425.7,634.7 435.6,646.3 433,661.7 427.7,674.7 432.3,696.9 425.4,709.2 425.2,726.7 425.1,746.2 429.6,762.9 431.2,777.3 M448.6,130.8 443,152.4 447.6,169.8 443,188.9 442,207.6 443.9,220.2 445.7,235.7 447.7,255 449.9,266.8 444.8,293.8 445.6,308.9 451.9,327.3 451.6,342.9 444.3,355.4 452.6,379.9 444.6,389.4 448.3,413.1 447.7,420.3 452.5,442.7 442.1,460.7 452.6,470.2 449.6,496.9 449.5,508.3 444.4,528.7 443.2,544.9 447.1,557.2 447.9,578 452.6,595.5 443.8,606.2 450.4,632.9 447.7,647.1 447.4,658.9 450.6,680.6 445.3,693.5 450.4,710.3 453.6,734.3 452.3,744.9 451.4,769.2 452.7,784.3 M459.7,132.5 465.6,157.6 460,165.2 469.9,190.4 461.1,203.7 465.2,219.1 468.1,235.5 461.4,255.1 467.8,269 464.8,283.3 470.7,303.1 470.7,320 465.1,336.5 469.8,351.4 462.2,369 460.7,387.4 460.3,407.9 460.5,424.2 466,446.6 465.7,457.2 462.1,472.8 466.6,490.4 463.8,508.7 460.3,523.5 465.5,546.6 459,563.7 465.5,582.4 459.6,592.6 459.1,614.2 463,630.3 461.3,642.3 470.6,668.9 460.7,684.4 466.3,699.5 459.2,715.2 470.2,732.6 465.7,747.9 465,764.3 468.8,787.9 M484.2,135.1 485.8,157.4 480.1,167.2 485,186.7 484.7,204.7 478.3,218.8 482,234.1 476.1,252.2 476.9,269.2 476,288.9 483.9,303.6 477.3,318.9 487.6,337.7 480.9,360.7 477.2,374 479.1,392.2 485.7,413.6 477.1,424.3 477.3,447.9 483.7,458.3 484.9,481.3 477.2,488.2 486.7,505 480.7,521.4 482.1,545.7 479.4,557.9 476.1,582.1 476.1,591.3 477.5,617.6 487.7,633 478.2,648.4 478.7,657.5 479.2,678.9 485.7,698 482.9,714.3 485.7,735.6 479.4,753.9 478.2,762.6 486.7,781.1 M496.8,137 496.3,152 502.9,165.9 495.1,190.5 496.9,204.2 501.7,215.2 497.2,232.2 494.1,253.8 501.8,268.5 498.4,286.6 499.7,304.7 499.3,325.2 502.8,336.8 502.2,351.5 501.5,373.4 500.8,387.4 495.4,403.5 499.1,419.5 500.6,440.7 504.2,461.8 502,473.9 502.1,489.5 503.7,504.3 497.8,530.5 502.9,544.3 496.6,560.8 498.6,578.8 504.1,596.3 494.1,616.4 500.2,626.7 497.4,646.8 496.1,661.2 494.9,677.3 495.4,691.8 501.4,709.2 503.6,725.4 496.5,751.3 494.7,765.9 494.9,779.5 M515.4,133.6 514.3,157.6 510.3,175.4 514,190.6 516.7,207.4 516.6,220.3 513,232.2 510.5,249.3 518.9,277.7 511.7,287.1 512,301.9 521.3,325.7 512.7,343.1 510.4,351.8 512.8,373 510.1,388.9 521.3,413.7 517.6,420 519.6,439.2 513,463.8 520.6,473.9 513.8,492.1 512.5,507.2 518.3,527 514.9,549.4 515.1,562.6 518,582.1 517.9,598.5 511.5,606.2 515.1,633.7 514.8,646.2 520.8,667.9 520.1,678 518.8,695.9 520.4,716.6 517.7,728.2 511.9,742.8 517,760.1 516.1,782.1 M536.5,138.4 538.5,148.8 533.3,165.8 538.7,185.8 528.3,204.7 527.2,219 535.8,238.6 530.7,251.8 532.9,270.6 530.8,293.1 529.5,310.9 534.8,326.2 530.5,345.4 538,354.1 534.4,376.1 535.1,387.2 532.8,402.6 535.8,428.3 538.9,442.9 527.5,459.4 529.9,480.9 527.3,490.1 537.8,510 534.6,526.6 529.5,546.2 534.9,559.3 531.5,577 537.9,596.3 535.6,608.9 531.5,631.2 528.8,640.5 537,657.6 529,679.9 535.7,691.7 527.5,709.5 535.1,728.3 537.5,747.3 538,762.9 529.3,778.2 M546.9,136.9 546.1,149.8 550.5,164.3 548.8,192.4 547,201.3 551.5,221.1 546.3,237.7 551,255.4 549.7,274.2 544,292 550,302.6 549.5,323.6 549.9,336.2 553,361.8 553,378.2 547.7,387.4 555.1,406.7 550.1,419.7 548.3,445.2 548.9,455.9 551.6,478.3 547.4,495.6 548.6,514.6 545.7,528.2 548.7,547.2 555.1,565.3 555.5,572.9 551.4,596.5 552.8,608.2 551.2,633.8 556,644.5 553.4,665.5 547.8,684.8 553.7,695 549.9,714 550.5,736.1 544.7,746.7 554.1,769.1 551.6,783.2 M567.3,140.5 563.8,152.8 567.3,175.7 569.7,183 570.3,204.1 561.8,226.8 572.2,233.3 570,256.9 570.2,273.4 571.1,284.4 571.9,312 561.5,326.4 563.7,339 565.1,354.3 569,369.5 570.5,391.6 571.9,409.4 567,423.5 566.3,438.1 561.7,462.3 569,481.7 565.4,490.8 563.8,509.5 565.9,529.9 562.5,549.8 561.7,564.9 568.6,579.6 569.4,596.2 561.6,615.3 570.7,626.4 562.3,647.6 568.8,668.8 562.4,685.7 571.1,701.4 564.4,709.5 568.5,728 566.3,750.8 572.5,761.5 565.2,787.9 M586.8,133.5 585.1,150.2 588.4,172.4 579.5,182.8 584.7,207.1 587.5,226.7 587.8,237.2 586.6,259.5 585.7,266.9 589.1,291.6 583.4,301.7 580.8,328 586,345.4 589.5,358.4 588.1,371.5 578.8,386.2 587.9,403.9 589.4,420.6 586.9,436.6 578.1,459.6 583.6,480.1 589.6,493 584.4,513.1 588.9,526.2 582.3,538.7 588.9,564.4 578.3,579.3 586.2,591.6 586.6,616.3 578,626.2 587.4,641.9 578.7,658.7 578.7,684.7 583.9,691.2 582.9,709.6 584.2,730.2 579.3,744.7 583.1,769.9 585.6,776.5 M606.8,131.4 595,152 598.1,168.4 605.9,190.7 605.9,203.3 596.3,218.2 600.9,242 599.7,252.9 596.8,269 605.8,286.5 597.3,301.1 602.7,320.6 596.8,338.7 598.1,359.6 601.8,372.5 599.7,391.6 604.4,404.7 605.3,431 604.8,439 606.3,454.7 603.4,480.3 605.2,494.4 604,511.8 601.9,530 598.3,542.8 596.7,565 603.2,583.2 603,594.5 603.8,607 600.1,630 602.2,644.1 604.1,668.3 603,676.5 605.9,696.7 602.1,718.3 606.4,728.5 606.5,750.9 595.1,759.6 599.9,785.5 M617,139.1 616.4,153.8 614,173.3 613.8,190.9 619.4,204.1 612.5,224.3 616.7,238.1 623.8,250.8 620.9,269.7 616.5,287.7 616.1,301.1 613.5,320 614.6,345.7 615.8,354.3 620.9,370.4 619.7,386.1 616.9,412.2 620.8,428.8 619.7,447.8 614.4,460.3 617.2,478.7 612.4,492 616.2,507.9 617.1,523.7 612.2,543 619.6,555.2 616,583.8 621.2,590.2 619.5,614.5 621.8,633.6 618.2,640.2 620.1,660.6 617.7,677.4 622.5,694.2 613.8,714.9 615.7,732.8 613.9,746 618.8,765 615.7,784.3 M630.8,135.9 640.4,155.3 635.4,173.3 640.8,188.9 635.1,206.3 632.2,216.6 637.3,243.8 637.7,256.7 635.8,266.1 641,290.1 631.9,303.1 636.6,325.4 630.7,334.6 629,360.1 632,370.9 631,393.3 639,404.2 631.3,430.8 636,444 635.1,460.7 635.8,473.7 634.2,496.3 630.9,514.1 637.7,531.6 634,546.4 629.1,566.4 635.1,577.8 631.2,589.4 634.5,617.2 629.5,633 629.4,651.9 636.1,666.1 632.1,676.4 631.2,701 638,710 630.4,732.1 633.2,750.1 640,768.3 629,779.7" fill="none" stroke="#e7e6ef" stroke-width="0.5"/>
</g>
<g id="region" clip-path="url(#rc)" stroke-linejoin="round">
<polygon points="281,269.5 288.5,267.5 296,266.2 303.5,263.8 311,262.5 318.5,261.2 326,260 334.8,259.5 336.5,253.8 337.2,250 346,247.5 353.5,243.8 355.5,237.5 361,232.5 367.2,230.8 371,232 374.8,225 379.8,216.2 384.8,207.5 390.2,198 394.8,200 396,203.8 402.2,204.5 404.8,208.8 407.2,213.8 410.5,218.8 411.5,227.5 411.5,236.2 407.2,241.2 403.5,245 400.5,247.5 397.2,248.8 393.5,253.8 389.8,257.5 386,259.5 383.5,257 382.2,261.2 384.8,266.2 381,266.2 377.2,268.8 371,272.5 363.5,277.5 356,282 353.5,283 357.2,282.5 363.5,285 369.8,290 372.2,296.2 377.2,302.5 382.2,305 384.8,310 392.2,313.8 389.8,317 384.8,318.8 382.2,322.5 383.5,326.2 381,330 376,330.5 369.8,331.2 368,336.2 364.8,340 363.5,343.8 367.2,347.5 369,352.5 374.8,353.8 383.5,355 386,358.8 391,365 401,366.2 408,367 406,372.5 402.2,373.8 403.5,380 411,386 409.8,391 416,393.5 418,401 418.5,411 421,417.2 427.2,419.8 432.2,418.5 436,423.5 439.8,429.8 443.5,436 442.2,444.8 437.2,451 432.2,454.8 427.2,459.8 429.8,466 433.5,471 437.2,477.2 437.9,480 447.7,484.5 453.1,486.3 454.9,492.6 457.6,495.3 451.3,501.5 445.9,506.9 440.6,512.3 436.1,518.6 433.4,525.8 437.9,529.4 447.7,532.1 456.7,536.6 454.9,542 450.4,549.1 445.9,553.6 454.9,553.6 458.5,559 454.9,561.7 452.2,568 447.7,571.6 440.6,574.3 433.4,576.1 432.5,580.6 428,583.3 424.4,587.7 419,590.4 413.6,593.1 408.2,594 402.8,591.3 397.5,587.7 391.2,585.9 389.4,581.5 393,576.1 391.2,571.6 386.7,570.7 380.4,572.5 377.7,577 378.6,582.4 376.8,587.7 382.2,589.5 383.1,594 379.5,596.7 372.3,599.4 365.1,603 358,605.7 349,606.6 340,603.9 340,603.8 337.5,606.2 341.2,610 340,615 338.8,621.2 342.5,625 346.2,629.5 352.5,631.2 358.8,628.8 361.2,631.2 356.2,633.8 353.8,638.8 350,641.2 346.2,646.2 340,651.2 336.2,647.5 332.5,650 333.8,656.2 328.8,662 322.5,663.8 317.5,667.5 311.2,672.5 306.2,673.8 307,676.2 305,681.2 301.2,686.2 300,679.5 296.2,680 290,682 282.5,680.5 275,679.5 268.8,681.2 261.2,683.8 255,685 251.2,681.2 247.5,676.2 245,672.5 240,673.8 236.2,670 232.5,665.5 227.5,667.5 220,671.2 213.8,666.2 209.5,662.5 212.5,660 216.2,656.2 218.8,652.5 212.5,648.8 212,645 217.5,646.2 221.2,642.5 216.2,638.5 218.8,633.5 216.2,628.5 216.2,622.2 222.5,619.8 227,617.2 227.5,612.2 223.8,608.5 220,603.5 218.8,598.5 213.8,593.5 216.2,591 215,583.5 212.5,577.2 205,577.2 197.5,576 192.5,571 188.8,564.8 183.8,559.8 178.8,553.5 175,547.2 176.2,538.5 173.8,531 171.2,521 170,511 166.2,504.8 163.8,498.5 165,491 167.5,484.8 171.2,478.5 167.5,474 160,472.2 153.8,469.8 151.2,463.5 147.5,456 145,448.5 142.5,441 143.8,436 150,433.5 151.2,428.5 146.2,424.8 140,421 133.8,416 132.5,409.8 125,407.2 120,403.5 120.2,399.9 118.7,395.2 120.2,390.7 119.4,386.1 117.2,382.3 119.4,380.8 123.2,381.5 126.3,377.7 125.5,373.9 127.8,370.9 129.3,366.4 127.8,363.3 129.3,358.8 132.3,356.5 135.4,355 133.1,351.2 131.6,345.1 130.8,339 130.1,332.2 131.6,329.1 135.4,327.6 137.7,324.6 136.9,321.5 139.2,318.5 143,317.7 146.8,315.5 146,312.4 149.1,310.1 152.1,312.4 155.1,310.9 154.4,307.9 157.4,305.6 155.9,303.3 154.4,300.3 156.7,298 159.7,295.7 163.5,296.5 165.8,298.7 168.1,298 167.6,294.2 167.3,289.6 169.6,286.6 173.4,285.1 171.8,282.8 174.1,280.5 177.9,279 181,280.5 184,279.8 182.5,277.5 184.8,275.2 187.8,272.9 190.1,270.6 193.9,269.1 197.7,268.4 196.9,265.3 199.2,263 203.8,261.5 209.8,260.8 217.5,259.5 225,260 236.2,258.8 243.8,260 245,253.8 252.5,256.2 260,257.5 265,260 268.8,257 272.5,258 275,262.5 278,268.8 281,270" fill="#cbc9e2"/>
<polygon points="185,255 420,185 420,340 365.7,332.9 359.1,326.2 355.8,313 345.9,309.7 330.9,309 316,309.7 309.4,314.6 306.1,326.2 304.4,331.2 289.5,337.8 279.6,346.1 276.2,356.1 271.3,357.7 263,366 266.3,379.3 261.3,392.5 254.7,390.9 249.7,404.1 233.1,412.4 213.3,405.8 215,396 220,372.6 228,346 236.5,328 238,319.6 226.5,321 229.8,283 200,270" fill="#ffffff" stroke="none" stroke-width="0"/>
<polygon points="200,262 207.5,260 217.5,259.5 225,260 236.2,258.8 243.8,260 245,253.8 252.5,256.2 260,257.5 265,260 268.8,257 272.5,258 275,262.5 278.8,270 272.5,272.5 266.2,277.5 257.5,281.8 250,278.8 230,276.8 220,275 210,271.2 200,268.8" fill="#cbc9e2" stroke="#70708a" stroke-width="0.5"/>
<polygon points="187.5,272.5 200,268.8 210,271.2 220,275 230,276.8 227.5,290 227,305 225,320 216.2,322.5 202.5,317 195,312.5 186.2,306.2 180,302.5 175,300 170,296.2 168,292.5 168.8,286.2 173.8,282 180,281.2 183.8,277.5" fill="#756bb1" stroke="#70708a" stroke-width="0.5"/>
<polygon points="168,298 170,296.2 175,300 186.2,306.2 195,312.5 202.5,317.5 195,322.5 191.2,330 187.5,338.8 183.8,347.5 175,348.8 158.8,349.5 150,351.2 142.5,347.5 133.8,342.5 131.2,342.5 130.5,333.8 132.5,330 137.5,327.5 138.8,322.5 143.8,320 145,316.2 150,313.8 152.5,308.8 156.2,306.2 155.5,301.2 158.8,297 163.8,296.2" fill="#9e9ac8" stroke="#70708a" stroke-width="0.5"/>
<polygon points="196.2,321.2 202.5,317.5 216.2,322.5 212.5,332.5 207.5,340 203.8,347.5 197.5,360 187.5,362.5 183.8,347.5 187.5,338.8 191.2,330" fill="#9e9ac8" stroke="#70708a" stroke-width="0.5"/>
<polygon points="216.2,322.5 225,320 235,318 238.8,322.5 232.5,333.8 225,347.5 217.5,362.5 213.8,373.8 210,377.5 193.8,363.8 197.5,360 205,347.5 210,337.5 213.8,330" fill="#cbc9e2" stroke="#70708a" stroke-width="0.5"/>
<polygon points="150,351.2 158.8,349.5 175,348.8 183.8,348 187.5,362.5 182.5,370 177.5,376.2 168.8,380 156.2,382.5 153.8,367.5 150,358.8" fill="#756bb1" stroke="#70708a" stroke-width="0.5"/>
<polygon points="133.8,343 142.5,347.5 150,351.2 150,358.8 153.8,367.5 156.2,382.5 158.8,395 145,390 145,371.2 130,377.5 127.5,370 128.8,362.5 133.8,355 131.2,342.5" fill="#f2f0f7" stroke="#70708a" stroke-width="0.5"/>
<polygon points="123.8,378.8 130,377.5 145,371.2 148.8,380 150,387.5 143.8,392.5 141.2,401.2 135,398.8 127.5,397.5 121.2,400 119.5,393.8 117.5,381.2 122.5,382.5" fill="#756bb1" stroke="#70708a" stroke-width="0.5"/>
<polygon points="168.8,380 177.5,376.2 187.5,362.5 193.8,363.8 210,377.5 217.5,380 215,386 210,405 198.8,401.2 187.5,391.2 182.5,386 167.5,386" fill="#9e9ac8" stroke="#70708a" stroke-width="0.5"/>
<polygon points="265.6,277.7 275.2,271.7 279.4,270.4 294.6,269.7 299.4,273.8 299.8,278.6 295.3,282.1 293.2,285.6 291.8,289.7 291.1,293.8 289.1,295.2 297.3,300.1 302.9,302.8 302.6,305.6 299.4,304.9 295.3,302.1 286.3,297.3 280.8,300.1 278,298 274.6,298.7 265.6,300.1 258.7,302.1 257.6,293.1 261.4,292.5 267,289.7 271.8,286.9 273.2,282.8 269,284.9" fill="#cbc9e2" stroke="#70708a" stroke-width="0.5"/>
<polygon points="262.1,295.6 267.7,291.1 272.5,288.3 274.6,282.1 275.9,284.2 274.6,285.6 275.2,288.3 278.7,290.4 276.6,293.8 269.7,295.9 265.6,297.3 264.2,298.7 261.4,298" fill="#ffffff" stroke="#9a9ab0" stroke-width="0.5"/>
<polygon points="308.5,315 317.2,309.5 329.8,308.8 331,316.2 334.8,327.5 338.5,335 347.2,342.5 356,350 356,357.5 351,362.5 342.2,367.5 337.2,370 334.8,377.5 331,366.2 327.2,357.5 321,356.2 313.5,352.5 309.8,342.5 306,335 306,325" fill="#cbc9e2" stroke="#70708a" stroke-width="0.5"/>
<polygon points="331,315 341,307 353.5,311.2 358.5,315 358,322.5 361,330 368,332 364.8,340 363.5,344.5 366,348.8 357.2,355 356,350 347.2,342.5 338.5,335 334.8,327.5" fill="#9e9ac8" stroke="#70708a" stroke-width="0.5"/>
<polygon points="281,342.5 291,337.5 301,332.5 304.8,325 306,335 309.8,342.5 313.5,352.5 321,356.2 327.2,357.5 331,366.2 334.8,377.5 336,386 334.8,395 326,386 323.5,377.5 318.5,367.5 311,362.5 303.5,365 296,360 288.5,355 281,351.2 273.5,355 276,347.5" fill="#9e9ac8" stroke="#70708a" stroke-width="0.5"/>
<polygon points="266,382.5 262.2,370 268.5,360 273.5,355 281,351.2 288.5,355 296,360 303.5,365 311,362.5 318.5,367.5 323.5,377.5 326,386 328.5,400 311,410 296,405 281,412.5 271,402.5" fill="#f2f0f7" stroke="#70708a" stroke-width="0.5"/>
<polygon points="337.2,370 342.2,367.5 351,362.5 356,357.5 357.2,355 366,348.8 369,352.5 374.8,353.8 383.5,355 386,358.8 391,365 401,366.2 408,367 406,372.5 402.2,373.8 403.5,380 411,386 409.8,391 398.5,395 388.5,402.5 377.2,398.8 368.5,392.5 356,380 346,377.5 338.5,382.5 334.8,377.5" fill="#f2f0f7" stroke="#70708a" stroke-width="0.5"/>
<polygon points="302,404.4 311.2,402.9 326.4,395.3 333.9,389.3 337,390.8 344.6,398.4 353.7,407.5 362.8,415.1 371.9,424.2 378,430.3 381,440 384.1,457.6 296,457.6 297.5,430.3 299,418.1 303.6,410.5" fill="#cbc9e2" stroke="none" stroke-width="0.5"/>
<polygon points="261,369.5 274.7,356.4 280.8,358.9 291.4,360.4 302,364.9 311.2,363.4 323.3,372.5 324.8,380.1 333.9,389.3 326.4,395.3 311.2,402.9 302,404.4 297.5,399.9 286.8,395.3 274.7,390.8 268.6,389.3 265.6,378.6" fill="#f2f0f7" stroke="#70708a" stroke-width="0.5"/>
<polygon points="335.5,380.1 341.5,369.5 347.6,364.9 356.7,357.3 359.8,354.3 365.9,348.2 362.8,340.6 368.9,330 390.2,330 414.5,360.4 432.7,421.2 420.5,419.6 420.5,412 417.5,402.9 414.5,393.8 399.3,395.3 390.2,399.9 381,404.4 376.5,402.9 368.9,398.4 359.8,393.8 350.7,387.7 341.5,384.7" fill="#f2f0f7" stroke="#70708a" stroke-width="0.5"/>
<polygon points="335.5,386.2 341.5,384.7 350.7,387.7 359.8,393.8 368.9,398.4 376.5,402.9 375,412 378,410.5 385.6,407.5 399.3,410.5 409.9,418.1 420.5,419.6 432.7,424.2 440,430.3 437.3,429.7 417.2,448.5 408.4,442.1 398.4,434.8 391.1,437.3 383.5,437.3 379.8,430.9 378,430.3 371.9,424.2 362.8,415.1 353.7,407.5 344.6,398.4 337,390.8" fill="#9e9ac8" stroke="#70708a" stroke-width="0.5"/>
<polygon points="399.3,395.3 414.5,393.8 417.5,402.9 420.5,412 420.5,419.6 409.9,418.1 402.3,412 400.8,402.9" fill="#cbc9e2" stroke="#70708a" stroke-width="0.5"/>
<polygon points="376.5,402.9 381,404.4 390.2,399.9 399.3,395.3 400.8,402.9 402.3,412 399.3,410.5 385.6,407.5 378,410.5 375,412" fill="#f2f0f7" stroke="#70708a" stroke-width="0.5"/>
<polygon points="276.2,348.2 288.4,337.6 302,333 306.6,339.1 311.2,351.3 318.8,360.4 326.4,355.8 330.9,363.4 332.4,371 335.5,380.1 333.9,389.3 324.8,380.1 323.3,372.5 311.2,363.4 302,364.9 291.4,360.4 280.8,358.9 274.7,355.8" fill="#9e9ac8" stroke="#70708a" stroke-width="0.5"/>
<polygon points="153.8,391 165,386 182.5,386 187.5,391 198.8,401 207.5,406 201.2,419.8 182.5,419.8 170,423.5 162.5,413.5 153.8,407.2" fill="#f2f0f7" stroke="#70708a" stroke-width="0.5"/>
<polygon points="182.5,386 186.2,376 210,372.2 217.5,381 215,386 210,404.8 198.8,401 187.5,391" fill="#9e9ac8" stroke="#70708a" stroke-width="0.5"/>
<polygon points="215,386 217.5,381 240,371 260,376 267.5,386 260,391 255,398.5 252.5,406 242.5,408.5 235,416 223.8,418.5 211.2,412.2 210,404.8" fill="#ffffff" stroke="#70708a" stroke-width="0.5"/>
<polygon points="201.2,419.8 207.5,406 211.2,412.2 223.8,418.5 231.2,421 232.5,427.2 240,432.2 255,433.5 260,436 266.2,451 272.5,466 277.5,476 272.5,476 260,473.5 252.5,463.5 240,456 220,448.5 200,447.2 202.5,436" fill="#f2f0f7" stroke="#70708a" stroke-width="0.5"/>
<polygon points="215,493.5 220,491 230,493.5 233.8,498.5 230,506 225,501 216.2,497.2" fill="#f2f0f7" stroke="#70708a" stroke-width="0.5"/>
<polygon points="191.2,528.5 202.5,529 207.5,531 210,546 217.5,551 208.8,554.8 205,551 197.5,552.2 192.5,543.5" fill="#9e9ac8" stroke="#70708a" stroke-width="0.5"/>
<polygon points="334.8,386 343.5,386 353.5,396 363.5,394.8 369.8,398.5 377.2,404.8 374.8,413.5 378.5,414.8 378,407.2 386,408.5 398.5,406 406,413.5 411,418.5 418.5,417.2 427.2,421 432.2,419 437.2,429.8 428.5,436 423.5,442.2 417.2,448.5 408.5,442.2 398.5,434.8 391,437.2 383.5,437.2 379.8,431 372.2,429.8 368.5,421 361,411 351,403.5 341,396" fill="#9e9ac8" stroke="#70708a" stroke-width="0.5"/>
<polygon points="323.5,511 327.2,501 333.5,494.8 339.8,499.8 346,498.5 351,507.2 363.5,506 362.2,511 353.5,517.2 339.8,513.5 329.8,513.5" fill="#9e9ac8" stroke="#70708a" stroke-width="0.5"/>
<polygon points="319.8,536 327.2,528.5 343.5,526 352.2,523.5 361,531 366,543.5 364.8,558.5 357.2,566 351,566 343.5,561 337.2,558.5 332.2,548.5 327.2,541" fill="#9e9ac8" stroke="#70708a" stroke-width="0.5"/>
<polygon points="329.8,573.5 334.8,569.8 339.8,571 344.8,563.5 349.8,566 349.8,573.5 344.8,583.5 337.2,587.2 331,584.8 329.8,578.5" fill="#9e9ac8" stroke="#70708a" stroke-width="0.5"/>
<polygon points="303.5,518.5 308.5,517.2 318.5,516 337.2,513.5 348.5,518.5 354.8,523 343.5,526 327.2,528.5 319.8,536 312.2,538.5 306,533.5 304.8,526" fill="#f2f0f7" stroke="#70708a" stroke-width="0.5"/>
<polygon points="321,563.5 331,559.8 338.5,561 339.8,566 334.8,569.8 329.8,573.5 329.8,583.5 324.8,584.8 321,576" fill="#f2f0f7" stroke="#70708a" stroke-width="0.5"/>
<polygon points="402.8,580.6 412.7,577.9 419,577 424.4,579.7 429.4,580.6 428,583.3 424.4,587.7 419,590.4 413.6,593.1 408.2,594 402.8,591.3" fill="#cbc9e2" stroke="#70708a" stroke-width="0.5"/>
<polygon points="404.6,549.1 410.9,546.4 419.9,545 428,545.5 429.8,550.9 437.9,550.9 445.9,553.6 454.9,554 457.6,559 454.9,561.7 452.2,568 447.7,571.6 445.9,569.8 442.4,566.2 436.1,564.4 429.8,564.4 424.4,562.6 419.9,568 415.4,561.7 411.8,559 407.3,558.1 405,554.5" fill="#9e9ac8" stroke="#70708a" stroke-width="0.5"/>
<polygon points="404.6,559 407.3,558.1 411.8,559 415.4,561.7 419.9,568 420.8,573.4 426.2,577.9 429.4,580.6 424.4,579.7 419,577 412.7,577.9 402.8,580.6 403.7,569.8" fill="#756bb1" stroke="#70708a" stroke-width="0.5"/>
<polygon points="380.4,550 386.7,551.8 391.2,552.7 393.9,555.4 396.6,559 393.9,563.5 391.2,566.2 385.8,564.4 384,569.8 380.4,572.5 378.6,571.6 379.5,560.8" fill="#756bb1" stroke="#70708a" stroke-width="0.5"/>
<polygon points="397.5,562.6 402,560.8 404.6,562.6 403.7,569.8 402.8,580.6 402,585.9 397.5,587.7 391.2,585.9 389.4,581.5 393,576.1 392.1,569.8" fill="#ffffff" stroke="#70708a" stroke-width="0.5"/>
<polygon points="419.9,568 424.4,562.6 429.8,564.4 436.1,564.4 442.4,566.2 445,569.8 440.6,574.3 433.4,576.1 429.4,580.6 426.2,577.9 420.8,573.4" fill="#ffffff" stroke="#70708a" stroke-width="0.5"/>
<polygon points="428,550.9 432.5,542 434.3,537.5 437.9,530.3 447.7,532.1 456.7,536.6 454.9,542 450.4,549.1 445.9,553.6 437.9,550.9 429.8,550.9" fill="#ffffff" stroke="#70708a" stroke-width="0.5"/>
<polygon points="384,490.8 392.1,484.5 397.5,481.8 408.2,482.7 413.6,487.2 419,496.2 421.7,501.5 417.2,509.6 413.6,515.9 408.2,512.3 402,506 394.8,499.8 388.5,495.3" fill="#9e9ac8" stroke="#70708a" stroke-width="0.5"/>
<polygon points="417.2,509.6 421.7,501.5 419.9,506.9 417.2,516.8 413.6,515.9" fill="#ffffff" stroke="#70708a" stroke-width="0.5"/>
<polygon points="219.3,362.3 261.9,362.3 266.7,375.8 268.7,381.6 267.7,388.4 261.9,391.3 256.1,389.3 251.2,396.1 254.1,405.8 249.3,407.7 240.6,409.6 234.8,415.4 231.9,419.3 222.2,420.3 216.4,416.4 210.6,412.5 211.6,402.9 214.5,389.3 217.4,377.7" fill="#ffffff" stroke="none" stroke-width="0.5"/>
<polygon points="261.9,362.3 308.3,362.3 323.8,377.7 333.4,389.3 327.6,395.1 326.7,403.8 316,402.9 304.4,405.8 296.7,401.9 287,395.1 277.4,391.3 267.7,388.4 268.7,381.6 266.7,375.8" fill="#f2f0f7" stroke="none" stroke-width="0.5"/>
<polygon points="201.9,410.6 207.7,405.8 210.6,412.5 216.4,416.4 222.2,420.3 231.9,419.3 230.9,427 236.7,431.9 246.4,434.8 255.1,433.8 259.9,436.7 264.8,443.5 268.7,451.2 265.8,457 272.5,462.8 274.5,468.6 277.4,475.4 267.7,476.4 261.9,466.7 254.1,460.9 244.5,455.1 232.9,451.2 219.3,447.4 207.7,449.3 200,446.4 200,424.1" fill="#f2f0f7" stroke="#70708a" stroke-width="0.5"/>
<polygon points="231.9,419.3 234.8,415.4 240.6,409.6 249.3,407.7 254.1,405.8 261.9,411.6 259,416.4 260.9,422.2 258,427 255.1,433.8 246.4,434.8 236.7,431.9 230.9,427" fill="#cbc9e2" stroke="#70708a" stroke-width="0.5"/>
<polygon points="261.9,411.6 265.8,414.5 271.6,420.3 277.4,425.1 283.2,426.1 288,431.9 293.8,436.7 292.8,443.5 289,449.3 285.1,453.2 277.4,451.2 274.5,457 272.5,462.8 265.8,457 268.7,451.2 264.8,443.5 259.9,436.7 255.1,433.8 258,427 260.9,422.2 259,416.4" fill="#ffffff" stroke="#70708a" stroke-width="0.5"/>
<polygon points="251.2,396.1 256.1,389.3 261.9,391.3 267.7,390.3 277.4,391.3 287,395.1 296.7,401.9 304.4,405.8 301.5,410.6 300.6,416.4 296.7,422.2 298.6,431.9 293.8,436.7 288,431.9 283.2,426.1 277.4,425.1 271.6,420.3 265.8,414.5 261.9,411.6 254.1,405.8" fill="#9e9ac8" stroke="#70708a" stroke-width="0.5"/>
<polygon points="277.4,451.2 285.1,453.2 289,449.3 294.8,450.3 304.4,456.1 310.2,462.8 314.1,468.6 317,478.3 308.3,476.4 298.6,474.4 289,469.6 279.3,467.7 274.5,464.8 274.5,457" fill="#9e9ac8" stroke="#70708a" stroke-width="0.5"/>
<polygon points="224.2,473.5 228,472.5 230.9,480.2 238.7,482.2 241.6,488 245.4,493.8 251.2,493.8 256.1,480.2 259,474.4 267.7,476.4 277.4,475.4 274.5,484.1 271.6,493.8 266.7,498.6 258,495.7 249.3,499.6 241.6,497.6 234.8,493.8 229,493.8 226.1,486" fill="#9e9ac8" stroke="#70708a" stroke-width="0.5"/>
<polygon points="417.7,449.6 422.5,443.8 430.2,436.1 437,432.2 440.9,432.2 443.8,437 441.8,445.8 438,448.7 435.1,454.5 428.3,458.3 419.6,456.4" fill="#ffffff" stroke="#70708a" stroke-width="0.5"/>
<polygon points="333.5,447.7 338.4,444.8 345.1,447.7 351.9,454.5 355.8,461.2 356.7,464.1 350.9,463.2 345.1,465.1 342.2,459.3 336.4,454.5" fill="#f2f0f7" stroke="#70708a" stroke-width="0.5"/>
<polygon points="412.8,485.4 428.3,477.7 436,474.8 440.9,480.6 424.4,488.3 415.7,492.2" fill="#f2f0f7" stroke="#70708a" stroke-width="0.5"/>
<polygon points="415.7,492.2 424.4,488.3 440.9,480.6 445.7,485.4 436,491.2 420.6,498.9" fill="#ffffff" stroke="#70708a" stroke-width="0.5"/>
<polygon points="374.1,431.2 378,432.2 383.8,438 391.6,436.1 399.3,435.1 407,441.9 416.7,448.7 417.7,453.5 412.8,461.2 405.1,467 397.4,471.9 391.6,465.1 385.8,457.4 381.9,445.8 378,438" fill="#f2f0f7" stroke="#70708a" stroke-width="0.5"/>
<polygon points="270.6,507.7 274.5,504.8 279.3,511.6 286.1,520.3 294.8,528 300.6,535.8 305.4,543.5 300.6,547.4 284.1,547.4 283.2,537.7 281.2,528 276.4,516.4" fill="#f2f0f7" stroke="#70708a" stroke-width="0.5"/>
<polygon points="213.7,663.1 222.4,658.1 232.3,650.6 242.3,643.2 249.7,637 258.4,633.2 255.9,625.8 253.5,617.1 259.7,613.3 269.6,612.1 279.6,609.6 279.6,588.5 285.8,586 280.8,583.5 277.1,577.3 287,571.1 301.9,564.9 304.4,572.3 305.7,583.5 310.6,588.5 316.9,593.5 321.8,599.7 326.8,605.9 329.3,610.9 334.3,607.1 337.2,605.9 345,600 370,632 360,665 310,695 250,695 200,668" fill="#9e9ac8" stroke="#70708a" stroke-width="0.5"/>
<polygon points="273.3,650.6 282,645.7 297,643.2 299.5,639.5 303.2,639.5 304.4,644.4 311.9,646.9 316.9,653.1 319.3,661.8 309.4,660.6 299.5,656.9 292,658.1 290.8,663.1 283.3,656.9" fill="#f2f0f7" stroke="#70708a" stroke-width="0.5"/>
<polygon points="290.8,663.1 292,658.1 299.5,656.9 309.4,660.6 319.3,661.8 329.3,661.3 324.3,664.3 316.9,669.3 309.4,674.3 305.7,679.2 301.9,685 297,676.7 293.2,669.3" fill="#f2f0f7" stroke="#70708a" stroke-width="0.5"/>
<polyline points="217.4,377.7 214.5,389.3 211.6,402.9 210.6,412.5 216.4,416.4 222.2,420.3 231.9,419.3" fill="none" stroke="#70708a" stroke-width="0.5"/>
<polyline points="266.7,362.3 266.7,375.8 268.7,381.6 267.7,388.4" fill="none" stroke="#70708a" stroke-width="0.5"/>
<polyline points="167.5,423.5 166.2,444.8 162.5,446 163.8,458.5 158.8,461 160,469.8" fill="none" stroke="#70708a" stroke-width="0.5"/>
<polyline points="167.5,423.5 182.5,419.8 201.2,419.8" fill="none" stroke="#70708a" stroke-width="0.5"/>
<polyline points="163.8,446 175,446 177.5,461 186.2,451 196.2,453.5 200,447.2" fill="none" stroke="#70708a" stroke-width="0.5"/>
<polyline points="160,469.8 172.5,479.8 187.5,488.5 202.5,492.2 215,493.5" fill="none" stroke="#70708a" stroke-width="0.5"/>
<polyline points="172.5,479.8 180,493.5 188.8,501 193.8,511 197.5,516 210,526 215,533.5 222.5,522.2" fill="none" stroke="#70708a" stroke-width="0.5"/>
<polyline points="197.5,516 196.2,522.2 191.2,528.5" fill="none" stroke="#70708a" stroke-width="0.5"/>
<polyline points="177.5,534.8 186.2,537.2 192.5,543.5" fill="none" stroke="#70708a" stroke-width="0.5"/>
<polyline points="205,551 206.2,558.5 202.5,568.5 192.5,564.8" fill="none" stroke="#70708a" stroke-width="0.5"/>
<polyline points="222.5,522.2 227.5,517.2 235,519.8 245,516 246.2,507.2 255,503.5" fill="none" stroke="#70708a" stroke-width="0.5"/>
<polyline points="222.5,522.2 220,536 218.8,551 223.8,558.5 225,566" fill="none" stroke="#70708a" stroke-width="0.5"/>
<polyline points="246.2,507.2 250,521 256.2,536 252.5,546 281,544.8" fill="none" stroke="#70708a" stroke-width="0.5"/>
<polyline points="255,503.5 270,508.5" fill="none" stroke="#70708a" stroke-width="0.5"/>
<polyline points="281,548.5 272.5,553.5 265,561" fill="none" stroke="#70708a" stroke-width="0.5"/>
<polyline points="212.5,577.2 222.5,578.5 250,582.2 252.5,573.5" fill="none" stroke="#70708a" stroke-width="0.5"/>
<polyline points="250,582.2 256.2,593.5 252.5,606 253.8,616" fill="none" stroke="#70708a" stroke-width="0.5"/>
<polyline points="216.2,622.2 240,627.2 253.8,617.2" fill="none" stroke="#70708a" stroke-width="0.5"/>
<polyline points="327.2,393.5 326,416 333.5,428.5 337.2,443.5" fill="none" stroke="#70708a" stroke-width="0.5"/>
<polyline points="302.2,407.2 327.2,403.5" fill="none" stroke="#70708a" stroke-width="0.5"/>
<polyline points="337.2,443.5 356,461 366,466 383.5,459.8" fill="none" stroke="#70708a" stroke-width="0.5"/>
<polyline points="356,461 358.5,478.5 356,491 367.2,503.5 371,488.5 384.8,489.8" fill="none" stroke="#70708a" stroke-width="0.5"/>
<polyline points="367.2,503.5 363.5,511 373.5,526 378.5,541 379.8,549.8" fill="none" stroke="#70708a" stroke-width="0.5"/>
<polyline points="346,482.2 334.8,493.5" fill="none" stroke="#70708a" stroke-width="0.5"/>
<polyline points="308.5,476 318.5,491 327.2,501" fill="none" stroke="#70708a" stroke-width="0.5"/>
<polyline points="281,474.8 296,483.5 306,486 318.5,491" fill="none" stroke="#70708a" stroke-width="0.5"/>
<polyline points="281,496 296,501 306,508.5 313.5,516" fill="none" stroke="#70708a" stroke-width="0.5"/>
<polyline points="366,543.5 378.5,543.5" fill="none" stroke="#70708a" stroke-width="0.5"/>
<polyline points="406,516 403.5,526 409.8,536 413.5,546" fill="none" stroke="#70708a" stroke-width="0.5"/>
<polyline points="406,516 421,517.2 433.5,521" fill="none" stroke="#70708a" stroke-width="0.5"/>
<polyline points="413.5,546 417.2,536 418.5,524.8 421,517.2" fill="none" stroke="#70708a" stroke-width="0.5"/>
<polyline points="299.8,546 306,546 312.2,538.5" fill="none" stroke="#70708a" stroke-width="0.5"/>
<polyline points="299.8,546 298.5,556 304.8,563.5 321,563.5" fill="none" stroke="#70708a" stroke-width="0.5"/>
<polyline points="304.8,563.5 306,583.5" fill="none" stroke="#70708a" stroke-width="0.5"/>
<polyline points="351,566 361,568.5 367.2,576 366,588.5 372.2,593.5 377.2,591" fill="none" stroke="#70708a" stroke-width="0.5"/>
<polyline points="337.2,587.2 341,596 343.5,603.5" fill="none" stroke="#70708a" stroke-width="0.5"/>
<polyline points="313.5,596 324.8,584.8" fill="none" stroke="#70708a" stroke-width="0.5"/>
<polyline points="313.5,596 324.8,584.8" fill="none" stroke="#70708a" stroke-width="0.5"/>
<polyline points="188.8,277.5 198.8,280 205,287.5 206.2,297.5 203.8,310 202.5,317" fill="none" stroke="#70708a" stroke-width="0.5"/>
<polyline points="228,289.5 241.2,286" fill="none" stroke="#70708a" stroke-width="0.5"/>
<polyline points="352.5,283.8 347.5,292.5 338.8,300 341.2,305" fill="none" stroke="#70708a" stroke-width="0.5"/>
<polyline points="221.5,578.1 222.4,573.6 223.3,570" fill="none" stroke="#70708a" stroke-width="0.5"/>
<polyline points="247.6,583.5 248.5,577.2 249.4,570" fill="none" stroke="#70708a" stroke-width="0.5"/>
<polyline points="253.9,618.5 255.7,625.7 259.3,634.6 266.4,645.4 272.7,651.7" fill="none" stroke="#70708a" stroke-width="0.5"/>
<polyline points="213.5,663.4 223.3,654.4 235.9,643.6 248.5,635.5 259.3,634.6" fill="none" stroke="#70708a" stroke-width="0.5"/>
<polyline points="249.4,674.1 257.5,667.9 266.4,661.6 269.1,656.2 272.7,651.7" fill="none" stroke="#70708a" stroke-width="0.5"/>
<polyline points="272.7,651.7 280.8,645.4 281.7,638.2 286.2,632.8 288.9,627.5" fill="none" stroke="#70708a" stroke-width="0.5"/>
<polyline points="285.3,629.3 288.9,627.5 289.8,622.1 292.5,616.7 298.8,613.1 305.9,609.5 313.1,613.1 319.4,619.4 314.9,623.9 307.7,627.5 302.4,631.1 297.9,629.3 291.6,627.5 286.2,630.2" fill="none" stroke="#70708a" stroke-width="0.5"/>
<polyline points="319.4,619.4 323.9,616.7 326.6,611.3" fill="none" stroke="#70708a" stroke-width="0.5"/>
<polyline points="279,588 279.9,595.1 280.8,602.3 280.8,610.4" fill="none" stroke="#70708a" stroke-width="0.5"/>
<polyline points="304.1,585.3 307.7,589.8 314.9,593.3 318.5,600.5 323.9,605.9 326.6,611.3" fill="none" stroke="#70708a" stroke-width="0.5"/>
</g>
<polygon points="281,269.5 288.5,267.5 296,266.2 303.5,263.8 311,262.5 318.5,261.2 326,260 334.8,259.5 336.5,253.8 337.2,250 346,247.5 353.5,243.8 355.5,237.5 361,232.5 367.2,230.8 371,232 374.8,225 379.8,216.2 384.8,207.5 390.2,198 394.8,200 396,203.8 402.2,204.5 404.8,208.8 407.2,213.8 410.5,218.8 411.5,227.5 411.5,236.2 407.2,241.2 403.5,245 400.5,247.5 397.2,248.8 393.5,253.8 389.8,257.5 386,259.5 383.5,257 382.2,261.2 384.8,266.2 381,266.2 377.2,268.8 371,272.5 363.5,277.5 356,282 353.5,283 357.2,282.5 363.5,285 369.8,290 372.2,296.2 377.2,302.5 382.2,305 384.8,310 392.2,313.8 389.8,317 384.8,318.8 382.2,322.5 383.5,326.2 381,330 376,330.5 369.8,331.2 368,336.2 364.8,340 363.5,343.8 367.2,347.5 369,352.5 374.8,353.8 383.5,355 386,358.8 391,365 401,366.2 408,367 406,372.5 402.2,373.8 403.5,380 411,386 409.8,391 416,393.5 418,401 418.5,411 421,417.2 427.2,419.8 432.2,418.5 436,423.5 439.8,429.8 443.5,436 442.2,444.8 437.2,451 432.2,454.8 427.2,459.8 429.8,466 433.5,471 437.2,477.2 437.9,480 447.7,484.5 453.1,486.3 454.9,492.6 457.6,495.3 451.3,501.5 445.9,506.9 440.6,512.3 436.1,518.6 433.4,525.8 437.9,529.4 447.7,532.1 456.7,536.6 454.9,542 450.4,549.1 445.9,553.6 454.9,553.6 458.5,559 454.9,561.7 452.2,568 447.7,571.6 440.6,574.3 433.4,576.1 432.5,580.6 428,583.3 424.4,587.7 419,590.4 413.6,593.1 408.2,594 402.8,591.3 397.5,587.7 391.2,585.9 389.4,581.5 393,576.1 391.2,571.6 386.7,570.7 380.4,572.5 377.7,577 378.6,582.4 376.8,587.7 382.2,589.5 383.1,594 379.5,596.7 372.3,599.4 365.1,603 358,605.7 349,606.6 340,603.9 340,603.8 337.5,606.2 341.2,610 340,615 338.8,621.2 342.5,625 346.2,629.5 352.5,631.2 358.8,628.8 361.2,631.2 356.2,633.8 353.8,638.8 350,641.2 346.2,646.2 340,651.2 336.2,647.5 332.5,650 333.8,656.2 328.8,662 322.5,663.8 317.5,667.5 311.2,672.5 306.2,673.8 307,676.2 305,681.2 301.2,686.2 300,679.5 296.2,680 290,682 282.5,680.5 275,679.5 268.8,681.2 261.2,683.8 255,685 251.2,681.2 247.5,676.2 245,672.5 240,673.8 236.2,670 232.5,665.5 227.5,667.5 220,671.2 213.8,666.2 209.5,662.5 212.5,660 216.2,656.2 218.8,652.5 212.5,648.8 212,645 217.5,646.2 221.2,642.5 216.2,638.5 218.8,633.5 216.2,628.5 216.2,622.2 222.5,619.8 227,617.2 227.5,612.2 223.8,608.5 220,603.5 218.8,598.5 213.8,593.5 216.2,591 215,583.5 212.5,577.2 205,577.2 197.5,576 192.5,571 188.8,564.8 183.8,559.8 178.8,553.5 175,547.2 176.2,538.5 173.8,531 171.2,521 170,511 166.2,504.8 163.8,498.5 165,491 167.5,484.8 171.2,478.5 167.5,474 160,472.2 153.8,469.8 151.2,463.5 147.5,456 145,448.5 142.5,441 143.8,436 150,433.5 151.2,428.5 146.2,424.8 140,421 133.8,416 132.5,409.8 125,407.2 120,403.5 120.2,399.9 118.7,395.2 120.2,390.7 119.4,386.1 117.2,382.3 119.4,380.8 123.2,381.5 126.3,377.7 125.5,373.9 127.8,370.9 129.3,366.4 127.8,363.3 129.3,358.8 132.3,356.5 135.4,355 133.1,351.2 131.6,345.1 130.8,339 130.1,332.2 131.6,329.1 135.4,327.6 137.7,324.6 136.9,321.5 139.2,318.5 143,317.7 146.8,315.5 146,312.4 149.1,310.1 152.1,312.4 155.1,310.9 154.4,307.9 157.4,305.6 155.9,303.3 154.4,300.3 156.7,298 159.7,295.7 163.5,296.5 165.8,298.7 168.1,298 167.6,294.2 167.3,289.6 169.6,286.6 173.4,285.1 171.8,282.8 174.1,280.5 177.9,279 181,280.5 184,279.8 182.5,277.5 184.8,275.2 187.8,272.9 190.1,270.6 193.9,269.1 197.7,268.4 196.9,265.3 199.2,263 203.8,261.5 209.8,260.8 217.5,259.5 225,260 236.2,258.8 243.8,260 245,253.8 252.5,256.2 260,257.5 265,260 268.8,257 272.5,258 275,262.5 278,268.8 281,270" fill="none" stroke="#000" stroke-width="3.25" stroke-linejoin="round"/>
<rect x="393.5" y="657.5" width="240" height="290" fill="#fff"/>
<text x="362.25" y="54.7" text-anchor="middle" font-family="'DejaVu Sans Condensed','Liberation Sans',sans-serif" font-weight="bold" font-size="23.6" stroke="#000" stroke-width="0.45" textLength="437.5" lengthAdjust="spacingAndGlyphs">Hrubá miera potratovosti v obciach</text>
<text x="362.25" y="83.7" text-anchor="middle" font-family="'DejaVu Sans Condensed','Liberation Sans',sans-serif" font-weight="bold" font-size="23.6" stroke="#000" stroke-width="0.45" textLength="612" lengthAdjust="spacingAndGlyphs">Bratislavského samosprávneho kraja v roku 2007</text>
<text x="193" y="352.3" font-family="'Liberation Sans',sans-serif" font-weight="bold" font-size="12.2" stroke="#fff" stroke-width="2.2" stroke-linejoin="round" fill="#fff" textLength="45.2" lengthAdjust="spacingAndGlyphs">Malacky</text>
<text x="193" y="352.3" font-family="'Liberation Sans',sans-serif" font-weight="bold" font-size="12.2" fill="#111" textLength="45.2" lengthAdjust="spacingAndGlyphs">Malacky</text>
<text x="310.5" y="477" font-family="'Liberation Sans',sans-serif" font-weight="bold" font-size="12.2" stroke="#fff" stroke-width="2.2" stroke-linejoin="round" fill="#fff" textLength="43.8" lengthAdjust="spacingAndGlyphs">Pezinok</text>
<text x="310.5" y="477" font-family="'Liberation Sans',sans-serif" font-weight="bold" font-size="12.2" fill="#111" textLength="43.8" lengthAdjust="spacingAndGlyphs">Pezinok</text>
<text x="376.3" y="535.4" font-family="'Liberation Sans',sans-serif" font-weight="bold" font-size="12.2" stroke="#fff" stroke-width="2.2" stroke-linejoin="round" fill="#fff" textLength="34.2" lengthAdjust="spacingAndGlyphs">Senec</text>
<text x="376.3" y="535.4" font-family="'Liberation Sans',sans-serif" font-weight="bold" font-size="12.2" fill="#111" textLength="34.2" lengthAdjust="spacingAndGlyphs">Senec</text>
<text x="212.8" y="572.2" font-family="'Liberation Sans',sans-serif" font-weight="bold" font-size="12.2" stroke="#fff" stroke-width="2.2" stroke-linejoin="round" fill="#fff" textLength="66.8" lengthAdjust="spacingAndGlyphs">BRATISLAVA</text>
<text x="212.8" y="572.2" font-family="'Liberation Sans',sans-serif" font-weight="bold" font-size="12.2" fill="#111" textLength="66.8" lengthAdjust="spacingAndGlyphs">BRATISLAVA</text>
<text x="394.4" y="181.7" font-family="'Liberation Sans',sans-serif" font-weight="normal" font-size="12.2" stroke="#f7f7fa" stroke-width="1.8" stroke-linejoin="round" fill="#f7f7fa" textLength="37" lengthAdjust="spacingAndGlyphs">Senica</text>
<text x="394.4" y="181.7" font-family="'Liberation Sans',sans-serif" font-weight="normal" font-size="12.2" fill="#c4c4c4" stroke="#c4c4c4" stroke-width="0.35" textLength="37" lengthAdjust="spacingAndGlyphs">Senica</text>
<text x="481.5" y="422.6" font-family="'Liberation Sans',sans-serif" font-weight="normal" font-size="12.2" stroke="#f7f7fa" stroke-width="1.8" stroke-linejoin="round" fill="#f7f7fa" textLength="43.6" lengthAdjust="spacingAndGlyphs">TRNAVA</text>
<text x="481.5" y="422.6" font-family="'Liberation Sans',sans-serif" font-weight="normal" font-size="12.2" fill="#c4c4c4" stroke="#c4c4c4" stroke-width="0.35" textLength="43.6" lengthAdjust="spacingAndGlyphs">TRNAVA</text>
<text x="539.5" y="572.4" font-family="'Liberation Sans',sans-serif" font-weight="normal" font-size="12.2" stroke="#f0eff5" stroke-width="1.8" stroke-linejoin="round" fill="#f0eff5" textLength="43.6" lengthAdjust="spacingAndGlyphs">Galanta</text>
<text x="539.5" y="572.4" font-family="'Liberation Sans',sans-serif" font-weight="normal" font-size="12.2" fill="#bdbdbd" stroke="#bdbdbd" stroke-width="0.35" textLength="43.6" lengthAdjust="spacingAndGlyphs">Galanta</text>
<text x="410.2" y="693.5" font-family="'DejaVu Sans Condensed','Liberation Sans',sans-serif" font-size="18" textLength="95" lengthAdjust="spacingAndGlyphs">Vysvetlivky</text>
<rect x="410.2" y="709.7" width="23.8" height="13.8" rx="1.2" fill="#fff" stroke="#000" stroke-width="2.8"/>
<text x="440.8" y="721.8" font-family="'DejaVu Sans Condensed','Liberation Sans',sans-serif" font-size="14" textLength="193.5" lengthAdjust="spacingAndGlyphs">Bratislavský samosprávny kraj</text>
<line x1="408.8" y1="741.2" x2="434.2" y2="741.2" stroke="#777" stroke-width="0.9"/>
<text x="440.8" y="745.5" font-family="'DejaVu Sans Condensed','Liberation Sans',sans-serif" font-size="14" textLength="81.5" lengthAdjust="spacingAndGlyphs">hranica obce</text>
<text x="410" y="769.2" font-family="'DejaVu Sans Condensed','Liberation Sans',sans-serif" font-size="14" textLength="196" lengthAdjust="spacingAndGlyphs">Hrubá miera potratovosti [‰]</text>
<rect x="410.2" y="784.3" width="24.2" height="14.1" fill="#ffffff" stroke="#f3f3f3" stroke-width="0.8"/>
<text x="441.3" y="797.0" font-family="'DejaVu Sans Condensed','Liberation Sans',sans-serif" font-size="14" textLength="27.7" lengthAdjust="spacingAndGlyphs">0.00</text>
<rect x="410.2" y="808.4" width="24.2" height="14.1" fill="#f2f0f7"/>
<text x="441.3" y="821.1" font-family="'DejaVu Sans Condensed','Liberation Sans',sans-serif" font-size="14" textLength="70.5" lengthAdjust="spacingAndGlyphs">0.01 - 2.00</text>
<rect x="410.2" y="832.5" width="24.2" height="14.1" fill="#cbc9e2"/>
<text x="441.3" y="845.2" font-family="'DejaVu Sans Condensed','Liberation Sans',sans-serif" font-size="14" textLength="70.5" lengthAdjust="spacingAndGlyphs">2.01 - 4.00</text>
<rect x="410.2" y="856.6" width="24.2" height="14.1" fill="#9e9ac8"/>
<text x="441.3" y="869.3" font-family="'DejaVu Sans Condensed','Liberation Sans',sans-serif" font-size="14" textLength="70.5" lengthAdjust="spacingAndGlyphs">4.01 - 6.00</text>
<rect x="410.2" y="880.7" width="24.2" height="14.1" fill="#756bb1"/>
<text x="441.3" y="893.4" font-family="'DejaVu Sans Condensed','Liberation Sans',sans-serif" font-size="14" textLength="78.3" lengthAdjust="spacingAndGlyphs">6.01 - 10.00</text>
<rect x="410.2" y="904.8" width="24.2" height="14.1" fill="#54278f"/>
<text x="441.3" y="917.5" font-family="'DejaVu Sans Condensed','Liberation Sans',sans-serif" font-size="14" textLength="45.7" lengthAdjust="spacingAndGlyphs">10.01 -</text>
<text x="156.4" y="740.3" text-anchor="middle" font-family="'DejaVu Sans Condensed','Liberation Sans',sans-serif" font-size="19">S</text>
<polygon points="156.7,743.2 129.5,800.7 154.4,778.3" fill="#d8d8d8"/>
<line x1="156.7" y1="743.2" x2="154.4" y2="778.3" stroke="#c4c4c4" stroke-width="0.6"/>
<polygon points="156.7,743.2 129.5,800.7 154.4,778.3 175.9,804" fill="none" stroke="#1a1a1a" stroke-width="1.1" stroke-linejoin="miter"/>
<rect x="36.1" y="884.8" width="279" height="11.8" fill="#000"/>
<rect x="72" y="886.3" width="33.1" height="9" fill="#fff"/>
<rect x="175.8" y="886.3" width="68.4" height="9" fill="#fff"/>
<text x="36.9" y="875.8" text-anchor="middle" font-family="'DejaVu Sans Condensed','Liberation Sans',sans-serif" font-size="14">10</text>
<text x="106.2" y="875.8" text-anchor="middle" font-family="'DejaVu Sans Condensed','Liberation Sans',sans-serif" font-size="14">0</text>
<text x="175.5" y="875.8" text-anchor="middle" font-family="'DejaVu Sans Condensed','Liberation Sans',sans-serif" font-size="14">10</text>
<text x="244.5" y="875.8" text-anchor="middle" font-family="'DejaVu Sans Condensed','Liberation Sans',sans-serif" font-size="14">20</text>
<text x="306" y="875.8" font-family="'DejaVu Sans Condensed','Liberation Sans',sans-serif" font-size="14" textLength="40" lengthAdjust="spacingAndGlyphs">30 km</text>
<text x="26.8" y="958.2" font-family="'DejaVu Sans Condensed','Liberation Sans',sans-serif" font-size="11.8" textLength="278" lengthAdjust="spacingAndGlyphs">Vstupné údaje: Štatistický úrad Slovenskej republiky</text>
<text x="26.8" y="972.6" font-family="'DejaVu Sans Condensed','Liberation Sans',sans-serif" font-size="11.8" textLength="450.5" lengthAdjust="spacingAndGlyphs">Spracované údaje: Integrovaná geografická báza údajov environmentálneho zdravia,</text>
<text x="26.8" y="987" font-family="'DejaVu Sans Condensed','Liberation Sans',sans-serif" font-size="11.8" textLength="447.5" lengthAdjust="spacingAndGlyphs">© Katedra kartografie, geoinfomatiky a DPZ, Prírodovedecká fakulta UK v Bratislave</text>
<text x="26.8" y="1001.4" font-family="'DejaVu Sans Condensed','Liberation Sans',sans-serif" font-size="11.8" textLength="304.7" lengthAdjust="spacingAndGlyphs">Administratívne hranice: Geodetický a kartografický ústav</text>
</svg>
</body></html>
